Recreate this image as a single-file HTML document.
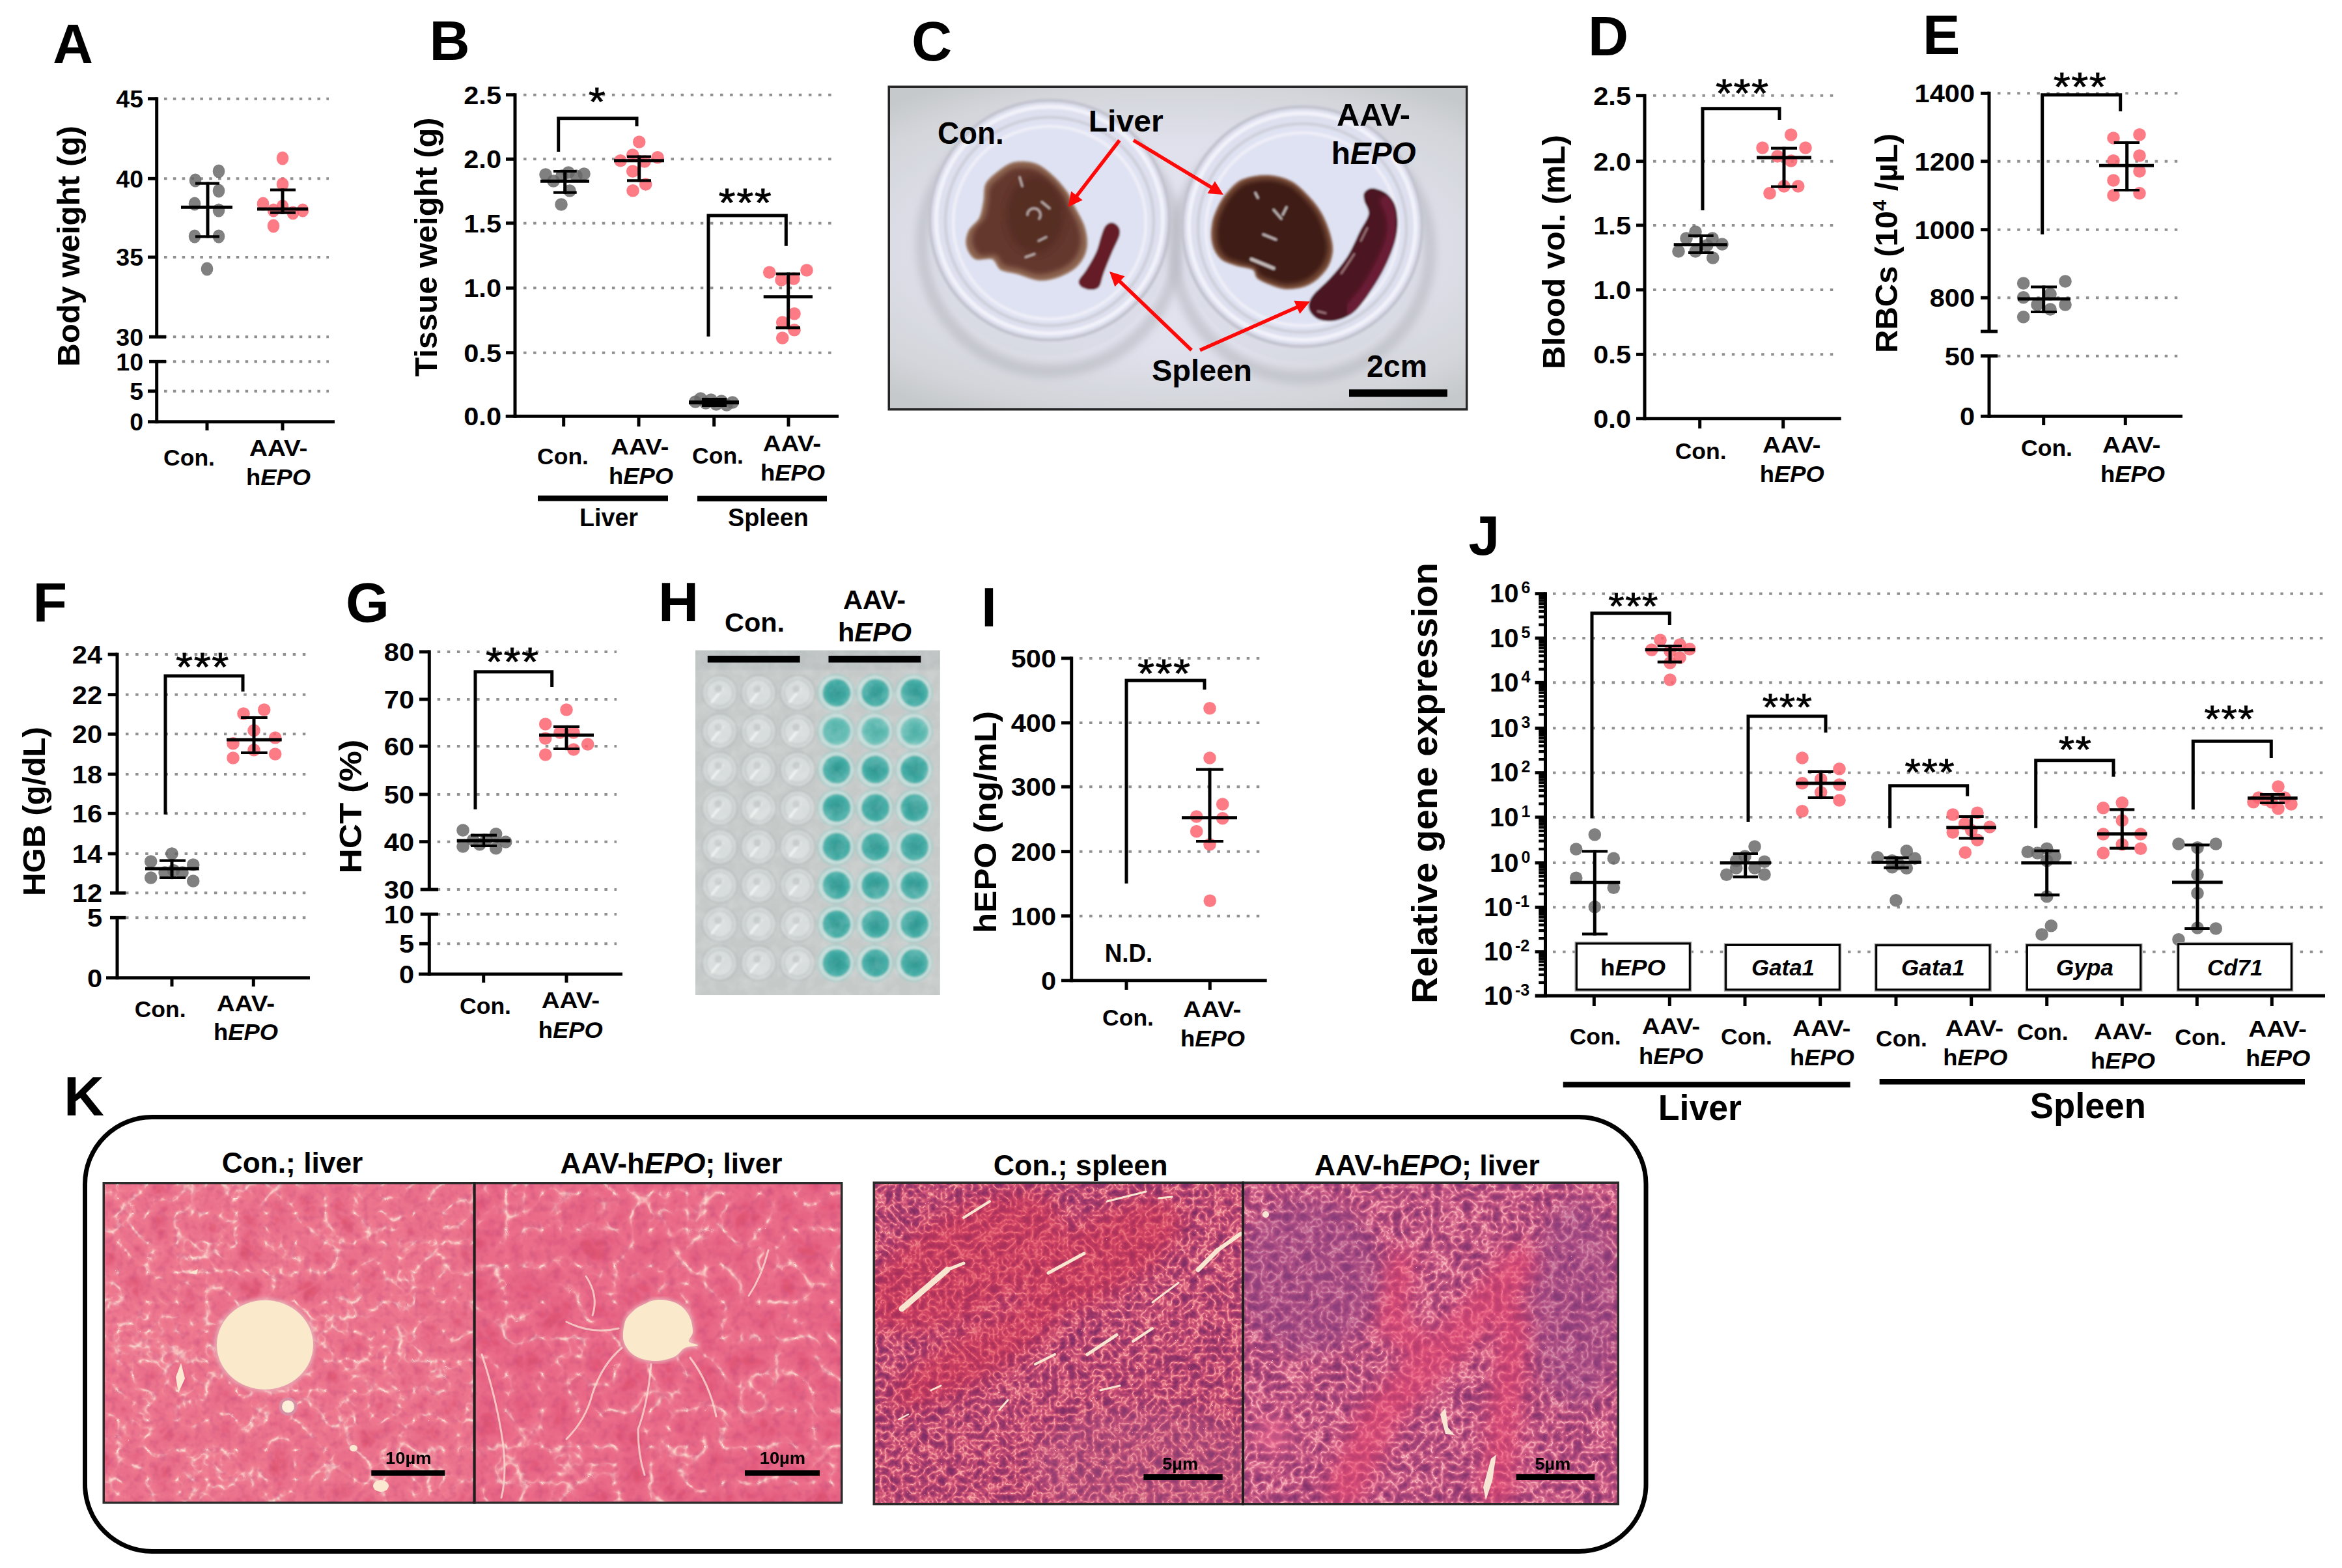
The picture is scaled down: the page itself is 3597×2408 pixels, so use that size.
<!DOCTYPE html>
<html><head><meta charset="utf-8"><title>Figure</title>
<style>html,body{margin:0;padding:0;background:#fff;}body{width:3597px;height:2408px;overflow:hidden;font-family:"Liberation Sans",sans-serif;}svg{display:block;}</style>
</head><body>
<svg width="3597" height="2408" viewBox="0 0 3597 2408" font-family='"Liberation Sans", sans-serif'>
<defs>
<filter id="soft" x="-5%" y="-5%" width="110%" height="110%"><feGaussianBlur stdDeviation="1.6"/></filter>
<filter id="soft3" x="-5%" y="-5%" width="110%" height="110%"><feGaussianBlur stdDeviation="3"/></filter>
<filter id="soft6" x="-10%" y="-10%" width="120%" height="120%"><feGaussianBlur stdDeviation="6"/></filter>
<filter id="soft12" x="-20%" y="-20%" width="140%" height="140%"><feGaussianBlur stdDeviation="14"/></filter>
<radialGradient id="bgC" cx="0.5" cy="0.5" r="0.75" gradientTransform="translate(0 0.1) scale(1 0.8)">
 <stop offset="0" stop-color="#e5e6f3"/><stop offset="0.55" stop-color="#dfe0eb"/><stop offset="0.85" stop-color="#d3d5da"/><stop offset="1" stop-color="#c6c9cb"/>
</radialGradient>
<radialGradient id="teal" cx="0.5" cy="0.5" r="0.5"><stop offset="0" stop-color="#2f958f"/><stop offset="0.7" stop-color="#3da8a1"/><stop offset="1" stop-color="#52b5ad"/></radialGradient>
<radialGradient id="teal2" cx="0.5" cy="0.5" r="0.5"><stop offset="0" stop-color="#4fb0a8"/><stop offset="0.7" stop-color="#5cb9b0"/><stop offset="1" stop-color="#7cc6bf"/></radialGradient>
<clipPath id="clipC"><rect x="1367" y="135" width="884" height="492"/></clipPath>
<clipPath id="clipH"><rect x="1067.9" y="998.6" width="376" height="529.6"/></clipPath>
<filter id="liv" x="0" y="0" width="100%" height="100%" color-interpolation-filters="sRGB">
  <feTurbulence type="turbulence" baseFrequency="0.022 0.022" numOctaves="3" seed="7" result="n"/>
  <feColorMatrix in="n" type="matrix" values="1 0 0 0 0  1 0 0 0 0  1 0 0 0 0  0 0 0 0 1" result="v"/>
  <feComponentTransfer in="v" result="veins">
    <feFuncR type="table" tableValues="0.99 0.97 0.95 0.94 0.935 0.93 0.925 0.92 0.915 0.91 0.90 0.89 0.88 0.87 0.86 0.86 0.86"/>
    <feFuncG type="table" tableValues="0.90 0.74 0.56 0.49 0.47 0.46 0.45 0.44 0.43 0.41 0.39 0.37 0.35 0.34 0.33 0.33 0.33"/>
    <feFuncB type="table" tableValues="0.84 0.74 0.62 0.575 0.56 0.555 0.55 0.545 0.54 0.52 0.50 0.48 0.46 0.45 0.44 0.44 0.44"/>
  </feComponentTransfer>
  <feTurbulence type="fractalNoise" baseFrequency="0.09" numOctaves="2" seed="3" result="g"/>
  <feColorMatrix in="g" type="matrix" values="0 0 0 0 0.80  0 0 0 0 0.32  0 0 0 0 0.50  1.3 0 0 0 -0.6" result="dots"/>
  <feMerge><feMergeNode in="veins"/><feMergeNode in="dots"/></feMerge>
</filter>
<filter id="liv2" x="0" y="0" width="100%" height="100%" color-interpolation-filters="sRGB">
  <feTurbulence type="turbulence" baseFrequency="0.018 0.018" numOctaves="3" seed="23" result="n"/>
  <feColorMatrix in="n" type="matrix" values="1 0 0 0 0  1 0 0 0 0  1 0 0 0 0  0 0 0 0 1" result="v"/>
  <feComponentTransfer in="v" result="veins">
    <feFuncR type="table" tableValues="0.99 0.97 0.945 0.93 0.925 0.92 0.915 0.91 0.905 0.90 0.89 0.88 0.87 0.86 0.85 0.85 0.85"/>
    <feFuncG type="table" tableValues="0.89 0.71 0.52 0.45 0.43 0.42 0.41 0.40 0.39 0.37 0.35 0.34 0.33 0.32 0.31 0.31 0.31"/>
    <feFuncB type="table" tableValues="0.83 0.72 0.60 0.555 0.54 0.535 0.53 0.525 0.52 0.50 0.48 0.46 0.45 0.44 0.43 0.43 0.43"/>
  </feComponentTransfer>
  <feTurbulence type="fractalNoise" baseFrequency="0.08" numOctaves="2" seed="9" result="g"/>
  <feColorMatrix in="g" type="matrix" values="0 0 0 0 0.78  0 0 0 0 0.30  0 0 0 0 0.48  1.3 0 0 0 -0.6" result="dots"/>
  <feMerge><feMergeNode in="veins"/><feMergeNode in="dots"/></feMerge>
</filter>
<filter id="spl" x="0" y="0" width="100%" height="100%" color-interpolation-filters="sRGB">
  <feTurbulence type="turbulence" baseFrequency="0.075 0.075" numOctaves="2" seed="5" result="n"/>
  <feColorMatrix in="n" type="matrix" values="1 0 0 0 0  1 0 0 0 0  1 0 0 0 0  0 0 0 0 1"/>
  <feComponentTransfer>
    <feFuncR type="table" tableValues="0.98 0.93 0.87 0.81 0.75 0.70 0.65 0.61 0.58 0.55 0.53 0.51 0.50 0.5 0.5 0.5 0.5"/>
    <feFuncG type="table" tableValues="0.74 0.54 0.41 0.33 0.29 0.26 0.24 0.22 0.21 0.20 0.19 0.18 0.18 0.18 0.18 0.18 0.18"/>
    <feFuncB type="table" tableValues="0.70 0.58 0.51 0.47 0.45 0.44 0.43 0.42 0.41 0.40 0.40 0.40 0.40 0.4 0.4 0.4 0.4"/>
  </feComponentTransfer>
</filter>
<filter id="spl2" x="0" y="0" width="100%" height="100%" color-interpolation-filters="sRGB">
  <feTurbulence type="turbulence" baseFrequency="0.065 0.065" numOctaves="2" seed="11" result="n"/>
  <feColorMatrix in="n" type="matrix" values="1 0 0 0 0  1 0 0 0 0  1 0 0 0 0  0 0 0 0 1"/>
  <feComponentTransfer>
    <feFuncR type="table" tableValues="0.98 0.93 0.87 0.81 0.76 0.71 0.67 0.63 0.60 0.57 0.55 0.53 0.52 0.52 0.52 0.52 0.52"/>
    <feFuncG type="table" tableValues="0.76 0.58 0.46 0.38 0.33 0.30 0.28 0.26 0.24 0.23 0.22 0.21 0.20 0.2 0.2 0.2 0.2"/>
    <feFuncB type="table" tableValues="0.78 0.66 0.58 0.54 0.51 0.49 0.48 0.47 0.46 0.45 0.44 0.43 0.42 0.42 0.42 0.42 0.42"/>
  </feComponentTransfer>
</filter>
<filter id="hnoise" x="0" y="0" width="100%" height="100%" color-interpolation-filters="sRGB">
  <feTurbulence type="fractalNoise" baseFrequency="0.05" numOctaves="3" seed="2"/>
  <feColorMatrix type="matrix" values="0 0 0 0 1  0 0 0 0 1  0 0 0 0 1  0.9 0 0 0 -0.3"/>
</filter>
</defs>
<rect x="0.0" y="0.0" width="3597.0" height="2408.0" fill="#fff" />
<text x="81.0" y="97.0" font-size="86" font-weight="bold" font-style="normal" text-anchor="start" fill="#000" >A</text>
<line x1="252.0" y1="151.7" x2="505.0" y2="151.7" stroke="#909090" stroke-width="4" stroke-dasharray="4.5 9.35"/>
<line x1="252.0" y1="274.3" x2="505.0" y2="274.3" stroke="#909090" stroke-width="4" stroke-dasharray="4.5 9.35"/>
<line x1="252.0" y1="395.0" x2="505.0" y2="395.0" stroke="#909090" stroke-width="4" stroke-dasharray="4.5 9.35"/>
<line x1="252.0" y1="517.3" x2="505.0" y2="517.3" stroke="#909090" stroke-width="4" stroke-dasharray="4.5 9.35"/>
<line x1="252.0" y1="555.3" x2="505.0" y2="555.3" stroke="#909090" stroke-width="4" stroke-dasharray="4.5 9.35"/>
<line x1="252.0" y1="600.7" x2="505.0" y2="600.7" stroke="#909090" stroke-width="4" stroke-dasharray="4.5 9.35"/>
<line x1="240.7" y1="149.2" x2="240.7" y2="517.3" stroke="#000" stroke-width="5" stroke-linecap="butt" />
<line x1="240.7" y1="555.3" x2="240.7" y2="650.2" stroke="#000" stroke-width="5" stroke-linecap="butt" />
<line x1="227.0" y1="151.7" x2="240.7" y2="151.7" stroke="#000" stroke-width="5" stroke-linecap="butt" />
<line x1="227.0" y1="274.3" x2="240.7" y2="274.3" stroke="#000" stroke-width="5" stroke-linecap="butt" />
<line x1="227.0" y1="395.0" x2="240.7" y2="395.0" stroke="#000" stroke-width="5" stroke-linecap="butt" />
<line x1="227.0" y1="600.7" x2="240.7" y2="600.7" stroke="#000" stroke-width="5" stroke-linecap="butt" />
<line x1="229.0" y1="517.3" x2="255.0" y2="517.3" stroke="#000" stroke-width="5" stroke-linecap="butt" />
<line x1="229.0" y1="555.3" x2="255.0" y2="555.3" stroke="#000" stroke-width="5" stroke-linecap="butt" />
<line x1="227.0" y1="647.7" x2="514.0" y2="647.7" stroke="#000" stroke-width="5" stroke-linecap="butt" />
<line x1="318.0" y1="647.7" x2="318.0" y2="661.0" stroke="#000" stroke-width="5" stroke-linecap="butt" />
<line x1="434.0" y1="647.7" x2="434.0" y2="661.0" stroke="#000" stroke-width="5" stroke-linecap="butt" />
<text transform="translate(220.0,165.1) scale(1.0,1)" font-size="37.5" font-weight="bold" text-anchor="end">45</text>
<text transform="translate(220.0,287.7) scale(1.0,1)" font-size="37.5" font-weight="bold" text-anchor="end">40</text>
<text transform="translate(220.0,408.4) scale(1.0,1)" font-size="37.5" font-weight="bold" text-anchor="end">35</text>
<text transform="translate(220.0,530.7) scale(1.0,1)" font-size="37.5" font-weight="bold" text-anchor="end">30</text>
<text transform="translate(220.0,568.7) scale(1.0,1)" font-size="37.5" font-weight="bold" text-anchor="end">10</text>
<text transform="translate(220.0,614.1) scale(1.0,1)" font-size="37.5" font-weight="bold" text-anchor="end">5</text>
<text transform="translate(220.0,661.1) scale(1.0,1)" font-size="37.5" font-weight="bold" text-anchor="end">0</text>
<text transform="translate(122.0,378.0) rotate(-90)" font-size="48" font-weight="bold" text-anchor="middle" textLength="370.0" lengthAdjust="spacingAndGlyphs">Body weight (g)</text>
<g fill="#666666" fill-opacity="0.83">
<ellipse cx="336.0" cy="263.0" rx="9.3" ry="10.6"/>
<ellipse cx="300.0" cy="277.0" rx="9.3" ry="10.6"/>
<ellipse cx="336.0" cy="293.0" rx="9.3" ry="10.6"/>
<ellipse cx="299.0" cy="313.0" rx="9.3" ry="10.6"/>
<ellipse cx="336.0" cy="323.0" rx="9.3" ry="10.6"/>
<ellipse cx="299.0" cy="363.0" rx="9.3" ry="10.6"/>
<ellipse cx="336.0" cy="363.0" rx="9.3" ry="10.6"/>
<ellipse cx="318.0" cy="413.0" rx="9.3" ry="10.6"/>
</g>
<g fill="#fc6470" fill-opacity="0.85">
<ellipse cx="434.0" cy="243.0" rx="9.3" ry="10.6"/>
<ellipse cx="434.0" cy="283.0" rx="9.3" ry="10.6"/>
<ellipse cx="404.0" cy="313.0" rx="9.3" ry="10.6"/>
<ellipse cx="434.0" cy="317.0" rx="9.3" ry="10.6"/>
<ellipse cx="420.0" cy="323.0" rx="9.3" ry="10.6"/>
<ellipse cx="450.0" cy="327.0" rx="9.3" ry="10.6"/>
<ellipse cx="465.0" cy="323.0" rx="9.3" ry="10.6"/>
<ellipse cx="420.0" cy="347.0" rx="9.3" ry="10.6"/>
</g>
<line x1="278.0" y1="318.3" x2="357.0" y2="318.3" stroke="#000" stroke-width="5" stroke-linecap="butt" />
<line x1="319.0" y1="279.6" x2="319.0" y2="365.4" stroke="#000" stroke-width="5" stroke-linecap="butt" />
<line x1="300.0" y1="281.7" x2="337.0" y2="281.7" stroke="#000" stroke-width="4.2" stroke-linecap="butt" />
<line x1="300.0" y1="363.3" x2="337.0" y2="363.3" stroke="#000" stroke-width="4.2" stroke-linecap="butt" />
<line x1="395.0" y1="321.0" x2="473.0" y2="321.0" stroke="#000" stroke-width="5" stroke-linecap="butt" />
<line x1="434.0" y1="289.6" x2="434.0" y2="328.8" stroke="#000" stroke-width="5" stroke-linecap="butt" />
<line x1="415.0" y1="291.7" x2="454.0" y2="291.7" stroke="#000" stroke-width="4.2" stroke-linecap="butt" />
<line x1="415.0" y1="326.7" x2="454.0" y2="326.7" stroke="#000" stroke-width="4.2" stroke-linecap="butt" />
<text x="251.0" y="715.0" font-size="35" font-weight="bold" font-style="normal" text-anchor="start" textLength="79.0" lengthAdjust="spacingAndGlyphs" fill="#000" >Con.</text>
<text x="383.0" y="700.0" font-size="35" font-weight="bold" font-style="normal" text-anchor="start" textLength="89.5" lengthAdjust="spacingAndGlyphs" fill="#000" >AAV-</text>
<text x="378.0" y="745.0" font-size="35" font-weight="bold" text-anchor="start" textLength="99.0" lengthAdjust="spacingAndGlyphs">h<tspan font-style="italic">EPO</tspan></text>
<text x="659.5" y="92.0" font-size="86" font-weight="bold" font-style="normal" text-anchor="start" fill="#000" >B</text>
<line x1="804.0" y1="145.7" x2="1279.0" y2="145.7" stroke="#909090" stroke-width="4" stroke-dasharray="4.5 10.60"/>
<line x1="804.0" y1="244.3" x2="1279.0" y2="244.3" stroke="#909090" stroke-width="4" stroke-dasharray="4.5 10.60"/>
<line x1="804.0" y1="342.7" x2="1279.0" y2="342.7" stroke="#909090" stroke-width="4" stroke-dasharray="4.5 10.60"/>
<line x1="804.0" y1="442.3" x2="1279.0" y2="442.3" stroke="#909090" stroke-width="4" stroke-dasharray="4.5 10.60"/>
<line x1="804.0" y1="541.7" x2="1279.0" y2="541.7" stroke="#909090" stroke-width="4" stroke-dasharray="4.5 10.60"/>
<line x1="791.0" y1="143.2" x2="791.0" y2="641.8" stroke="#000" stroke-width="5" stroke-linecap="butt" />
<line x1="777.0" y1="145.7" x2="791.0" y2="145.7" stroke="#000" stroke-width="5" stroke-linecap="butt" />
<line x1="777.0" y1="244.3" x2="791.0" y2="244.3" stroke="#000" stroke-width="5" stroke-linecap="butt" />
<line x1="777.0" y1="342.7" x2="791.0" y2="342.7" stroke="#000" stroke-width="5" stroke-linecap="butt" />
<line x1="777.0" y1="442.3" x2="791.0" y2="442.3" stroke="#000" stroke-width="5" stroke-linecap="butt" />
<line x1="777.0" y1="541.7" x2="791.0" y2="541.7" stroke="#000" stroke-width="5" stroke-linecap="butt" />
<line x1="776.7" y1="639.3" x2="1288.0" y2="639.3" stroke="#000" stroke-width="5" stroke-linecap="butt" />
<line x1="865.7" y1="639.3" x2="865.7" y2="655.0" stroke="#000" stroke-width="5" stroke-linecap="butt" />
<line x1="981.0" y1="639.3" x2="981.0" y2="655.0" stroke="#000" stroke-width="5" stroke-linecap="butt" />
<line x1="1096.7" y1="639.3" x2="1096.7" y2="655.0" stroke="#000" stroke-width="5" stroke-linecap="butt" />
<line x1="1211.0" y1="639.3" x2="1211.0" y2="655.0" stroke="#000" stroke-width="5" stroke-linecap="butt" />
<text transform="translate(770.0,159.5) scale(1.08,1)" font-size="38.5" font-weight="bold" text-anchor="end">2.5</text>
<text transform="translate(770.0,258.1) scale(1.08,1)" font-size="38.5" font-weight="bold" text-anchor="end">2.0</text>
<text transform="translate(770.0,356.5) scale(1.08,1)" font-size="38.5" font-weight="bold" text-anchor="end">1.5</text>
<text transform="translate(770.0,456.1) scale(1.08,1)" font-size="38.5" font-weight="bold" text-anchor="end">1.0</text>
<text transform="translate(770.0,555.5) scale(1.08,1)" font-size="38.5" font-weight="bold" text-anchor="end">0.5</text>
<text transform="translate(770.0,653.1) scale(1.08,1)" font-size="38.5" font-weight="bold" text-anchor="end">0.0</text>
<text transform="translate(670.5,379.5) rotate(-90)" font-size="48" font-weight="bold" text-anchor="middle" textLength="398.0" lengthAdjust="spacingAndGlyphs">Tissue weight (g)</text>
<text transform="translate(916.7,176.8) scale(1.08,1)" x="-12.1" y="0" font-size="62" font-weight="normal" letter-spacing="1.4" stroke="#000" stroke-width="0.8">*</text>
<path d="M857.7,233.0 L857.7,181.7 L978.0,181.7 L978.0,194.0" fill="none" stroke="#000" stroke-width="5" stroke-linejoin="miter"/>
<g fill="#666666" fill-opacity="0.83">
<circle cx="838.0" cy="268.0" r="9.8"/>
<circle cx="850.0" cy="278.0" r="9.8"/>
<circle cx="863.0" cy="270.0" r="9.8"/>
<circle cx="873.0" cy="265.0" r="9.8"/>
<circle cx="885.0" cy="270.0" r="9.8"/>
<circle cx="897.0" cy="267.0" r="9.8"/>
<circle cx="875.0" cy="293.0" r="9.8"/>
<circle cx="862.0" cy="314.0" r="9.8"/>
</g>
<line x1="830.0" y1="278.3" x2="905.0" y2="278.3" stroke="#000" stroke-width="5" stroke-linecap="butt" />
<line x1="867.7" y1="260.9" x2="867.7" y2="297.8" stroke="#000" stroke-width="5" stroke-linecap="butt" />
<line x1="850.0" y1="263.0" x2="885.7" y2="263.0" stroke="#000" stroke-width="4.2" stroke-linecap="butt" />
<line x1="850.0" y1="295.7" x2="885.7" y2="295.7" stroke="#000" stroke-width="4.2" stroke-linecap="butt" />
<g fill="#fc6470" fill-opacity="0.85">
<circle cx="981.7" cy="218.0" r="9.8"/>
<circle cx="971.7" cy="238.0" r="9.8"/>
<circle cx="953.0" cy="246.7" r="9.8"/>
<circle cx="1010.0" cy="241.7" r="9.8"/>
<circle cx="990.0" cy="248.0" r="9.8"/>
<circle cx="971.7" cy="263.0" r="9.8"/>
<circle cx="991.7" cy="283.0" r="9.8"/>
<circle cx="972.0" cy="292.7" r="9.8"/>
</g>
<line x1="943.0" y1="246.7" x2="1020.0" y2="246.7" stroke="#000" stroke-width="5" stroke-linecap="butt" />
<line x1="981.7" y1="238.6" x2="981.7" y2="279.4" stroke="#000" stroke-width="5" stroke-linecap="butt" />
<line x1="963.0" y1="240.7" x2="1000.0" y2="240.7" stroke="#000" stroke-width="4.2" stroke-linecap="butt" />
<line x1="963.0" y1="277.3" x2="1000.0" y2="277.3" stroke="#000" stroke-width="4.2" stroke-linecap="butt" />
<text transform="translate(1144.2,332.2) scale(1.08,1)" x="-37.6" y="0" font-size="62" font-weight="normal" letter-spacing="1.4" stroke="#000" stroke-width="0.8">***</text>
<path d="M1088.0,516.7 L1088.0,331.0 L1207.3,331.0 L1207.3,377.7" fill="none" stroke="#000" stroke-width="5" stroke-linejoin="miter"/>
<g fill="#fc6470" fill-opacity="0.85">
<circle cx="1181.7" cy="418.3" r="9.8"/>
<circle cx="1239.0" cy="415.0" r="9.8"/>
<circle cx="1200.0" cy="430.0" r="9.8"/>
<circle cx="1219.0" cy="428.0" r="9.8"/>
<circle cx="1220.0" cy="481.7" r="9.8"/>
<circle cx="1201.7" cy="495.0" r="9.8"/>
<circle cx="1220.0" cy="506.7" r="9.8"/>
<circle cx="1201.7" cy="519.0" r="9.8"/>
</g>
<line x1="1172.7" y1="455.7" x2="1248.0" y2="455.7" stroke="#000" stroke-width="5" stroke-linecap="butt" />
<line x1="1210.7" y1="418.6" x2="1210.7" y2="505.4" stroke="#000" stroke-width="5" stroke-linecap="butt" />
<line x1="1191.7" y1="420.7" x2="1229.0" y2="420.7" stroke="#000" stroke-width="4.2" stroke-linecap="butt" />
<line x1="1191.7" y1="503.3" x2="1229.0" y2="503.3" stroke="#000" stroke-width="4.2" stroke-linecap="butt" />
<g fill="#666666" fill-opacity="0.83">
<circle cx="1068.0" cy="617.0" r="9.8"/>
<circle cx="1076.0" cy="612.0" r="9.8"/>
<circle cx="1084.0" cy="619.0" r="9.8"/>
<circle cx="1092.0" cy="614.0" r="9.8"/>
<circle cx="1100.0" cy="621.0" r="9.8"/>
<circle cx="1108.0" cy="616.0" r="9.8"/>
<circle cx="1116.0" cy="622.0" r="9.8"/>
<circle cx="1125.0" cy="618.0" r="9.8"/>
</g>
<line x1="1058.0" y1="618.0" x2="1135.0" y2="618.0" stroke="#000" stroke-width="6" stroke-linecap="butt" />
<line x1="1096.7" y1="610.9" x2="1096.7" y2="625.1" stroke="#000" stroke-width="5" stroke-linecap="butt" />
<line x1="1078.0" y1="613.0" x2="1116.0" y2="613.0" stroke="#000" stroke-width="4.2" stroke-linecap="butt" />
<line x1="1078.0" y1="623.0" x2="1116.0" y2="623.0" stroke="#000" stroke-width="4.2" stroke-linecap="butt" />
<text x="825.0" y="713.0" font-size="35" font-weight="bold" font-style="normal" text-anchor="start" textLength="79.0" lengthAdjust="spacingAndGlyphs" fill="#000" >Con.</text>
<text x="938.0" y="698.0" font-size="35" font-weight="bold" font-style="normal" text-anchor="start" textLength="89.5" lengthAdjust="spacingAndGlyphs" fill="#000" >AAV-</text>
<text x="935.0" y="743.0" font-size="35" font-weight="bold" text-anchor="start" textLength="99.0" lengthAdjust="spacingAndGlyphs">h<tspan font-style="italic">EPO</tspan></text>
<text x="1063.0" y="712.0" font-size="35" font-weight="bold" font-style="normal" text-anchor="start" textLength="79.0" lengthAdjust="spacingAndGlyphs" fill="#000" >Con.</text>
<text x="1171.7" y="693.0" font-size="35" font-weight="bold" font-style="normal" text-anchor="start" textLength="89.5" lengthAdjust="spacingAndGlyphs" fill="#000" >AAV-</text>
<text x="1168.0" y="738.0" font-size="35" font-weight="bold" text-anchor="start" textLength="99.0" lengthAdjust="spacingAndGlyphs">h<tspan font-style="italic">EPO</tspan></text>
<rect x="826.0" y="761.0" width="200.0" height="8.5" fill="#000" />
<rect x="1071.0" y="761.5" width="199.0" height="8.5" fill="#000" />
<text x="890.0" y="808.0" font-size="38" font-weight="bold" font-style="normal" text-anchor="start" textLength="90.0" lengthAdjust="spacingAndGlyphs" fill="#000" >Liver</text>
<text x="1118.0" y="808.0" font-size="38" font-weight="bold" font-style="normal" text-anchor="start" textLength="123.7" lengthAdjust="spacingAndGlyphs" fill="#000" >Spleen</text>
<text x="1400.0" y="93.0" font-size="86" font-weight="bold" font-style="normal" text-anchor="start" fill="#000" >C</text>
<rect x="1363.5" y="131.5" width="891.0" height="499.0" fill="#262626" />
<g clip-path="url(#clipC)">
<rect x="1366.0" y="134.0" width="886.0" height="494.0" fill="url(#bgC)" />
<g filter="url(#soft)">
<circle cx="1612" cy="374" r="196" fill="none" stroke="#b4b5bd" stroke-width="20" opacity="0.55" filter="url(#soft6)"/>
<circle cx="1612" cy="360" r="186" fill="#d6d7e2" opacity="0.5"/>
<circle cx="1612" cy="338" r="184" fill="#dee0ef" stroke="#c3c4cf" stroke-width="5"/>
<circle cx="1612" cy="338" r="174" fill="none" stroke="#f2f2fa" stroke-width="6"/>
<circle cx="1612" cy="340" r="160" fill="#dfe2f2" stroke="#cfd0db" stroke-width="5"/>
<circle cx="1612" cy="342" r="148" fill="none" stroke="#eeeef8" stroke-width="5"/>
<circle cx="2000" cy="384" r="196" fill="none" stroke="#b4b5bd" stroke-width="20" opacity="0.55" filter="url(#soft6)"/>
<circle cx="2000" cy="370" r="186" fill="#d6d7e2" opacity="0.5"/>
<circle cx="2000" cy="348" r="184" fill="#dee0ef" stroke="#c3c4cf" stroke-width="5"/>
<circle cx="2000" cy="348" r="174" fill="none" stroke="#f2f2fa" stroke-width="6"/>
<circle cx="2000" cy="350" r="160" fill="#dfe2f2" stroke="#cfd0db" stroke-width="5"/>
<circle cx="2000" cy="352" r="148" fill="none" stroke="#eeeef8" stroke-width="5"/>
<path d="M1557.0,249.8 C1566.3,247.8 1580.0,248.1 1589.8,251.4 C1599.7,254.7 1607.9,262.1 1616.1,269.5 C1624.3,276.8 1633.6,288.1 1639.1,295.7 C1644.5,303.4 1644.5,306.7 1648.9,315.4 C1653.3,324.2 1662.0,337.3 1665.3,348.2 C1668.6,359.2 1670.2,371.2 1668.6,381.1 C1667.0,390.9 1662.0,400.2 1655.5,407.3 C1648.9,414.5 1639.1,419.9 1629.2,423.8 C1619.4,427.6 1607.3,430.9 1596.4,430.3 C1585.4,429.8 1573.4,423.2 1563.5,420.5 C1553.7,417.7 1543.8,417.7 1537.3,413.9 C1530.7,410.1 1530.7,400.2 1524.1,397.5 C1517.6,394.8 1504.5,400.8 1497.9,397.5 C1491.3,394.2 1486.4,384.9 1484.8,377.8 C1483.1,370.7 1484.8,361.9 1488.0,354.8 C1491.3,347.7 1500.6,342.8 1504.5,335.1 C1508.3,327.5 1509.4,317.6 1511.0,308.8 C1512.7,300.1 1510.5,290.2 1514.3,282.6 C1518.1,274.9 1526.9,268.4 1534.0,262.9 C1541.1,257.4 1547.7,251.7 1557.0,249.8 Z" fill="#8c6450" stroke="#a98a78" stroke-width="3"/>
<path d="M1558.9,258.6 C1567.3,256.9 1579.6,257.1 1588.5,260.1 C1597.4,263.0 1604.7,269.7 1612.1,276.3 C1619.5,283.0 1627.9,293.1 1632.8,300.0 C1637.7,306.9 1637.7,309.8 1641.7,317.7 C1645.6,325.6 1653.5,337.4 1656.5,347.3 C1659.4,357.1 1660.9,367.9 1659.4,376.8 C1657.9,385.7 1653.5,394.0 1647.6,400.4 C1641.7,406.8 1632.8,411.8 1624.0,415.2 C1615.1,418.7 1604.3,421.6 1594.4,421.1 C1584.6,420.6 1573.7,414.7 1564.9,412.3 C1556.0,409.8 1547.1,409.8 1541.2,406.4 C1535.3,402.9 1535.3,394.0 1529.4,391.6 C1523.5,389.1 1511.7,394.5 1505.8,391.6 C1499.9,388.6 1495.4,380.3 1493.9,373.9 C1492.5,367.4 1493.9,359.6 1496.9,353.2 C1499.9,346.8 1508.2,342.3 1511.7,335.4 C1515.1,328.5 1516.1,319.7 1517.6,311.8 C1519.1,303.9 1517.1,295.1 1520.5,288.2 C1524.0,281.3 1531.9,275.4 1538.3,270.4 C1544.7,265.5 1550.6,260.3 1558.9,258.6 Z" fill="#65392e" filter="url(#soft3)"/>
<ellipse cx="1590" cy="330" rx="45" ry="60" fill="#4e271f" opacity="0.6" filter="url(#soft6)"/>
<g stroke="#d8cfcf" stroke-width="3" fill="none" opacity="0.8" stroke-linecap="round"><path d="M1595,370 l12,-6"/><path d="M1575,395 l14,-5"/><path d="M1578,330 a10,10 0 1 1 18,6"/><path d="M1566,272 l4,14"/><path d="M1600,310 l12,10"/></g>
<path d="M1708.0,341.7 C1711.3,342.0 1715.9,345.0 1717.8,348.2 C1719.8,351.5 1721.1,354.8 1719.5,361.4 C1717.8,367.9 1712.1,377.8 1708.0,387.6 C1703.9,397.5 1698.1,411.7 1694.9,420.5 C1691.6,429.2 1691.6,436.1 1688.3,440.2 C1685.0,444.3 1679.8,445.1 1675.2,445.1 C1670.5,445.1 1663.4,442.6 1660.4,440.2 C1657.4,437.7 1655.7,434.7 1657.1,430.3 C1658.5,425.9 1664.2,421.0 1668.6,413.9 C1673.0,406.8 1679.5,396.4 1683.4,387.6 C1687.2,378.9 1689.1,368.2 1691.6,361.4 C1694.0,354.5 1695.4,349.9 1698.1,346.6 C1700.9,343.3 1704.7,341.4 1708.0,341.7 Z" fill="#661a26"/>
<path d="M1908.3,276.0 C1918.7,271.6 1935.1,268.9 1947.7,269.5 C1960.3,270.0 1973.5,273.8 1983.8,279.3 C1994.2,284.8 2002.5,294.1 2010.1,302.3 C2017.8,310.5 2024.3,318.7 2029.8,328.5 C2035.3,338.4 2040.2,351.5 2042.9,361.4 C2045.7,371.2 2047.3,378.9 2046.2,387.6 C2045.1,396.4 2042.4,405.7 2036.4,413.9 C2030.4,422.1 2020.0,432.0 2010.1,436.9 C2000.3,441.8 1987.1,443.5 1977.3,443.5 C1967.4,443.5 1958.7,439.6 1951.0,436.9 C1943.4,434.1 1935.7,430.9 1931.3,427.0 C1926.9,423.2 1930.2,417.2 1924.8,413.9 C1919.3,410.6 1906.7,410.1 1898.5,407.3 C1890.3,404.6 1881.5,403.0 1875.5,397.5 C1869.5,392.0 1864.6,383.8 1862.4,374.5 C1860.2,365.2 1860.7,351.5 1862.4,341.7 C1864.0,331.8 1868.4,323.1 1872.2,315.4 C1876.1,307.8 1879.3,302.3 1885.4,295.7 C1891.4,289.1 1897.9,280.4 1908.3,276.0 Z" fill="#754a36" stroke="#9a7460" stroke-width="3"/>
<path d="M1912.0,282.3 C1921.6,278.3 1936.7,275.8 1948.3,276.3 C1959.8,276.8 1971.9,280.3 1981.5,285.3 C1991.0,290.4 1998.6,298.9 2005.6,306.5 C2012.7,314.0 2018.7,321.6 2023.8,330.6 C2028.8,339.7 2033.3,351.8 2035.9,360.9 C2038.4,369.9 2039.9,377.0 2038.9,385.0 C2037.9,393.1 2035.3,401.6 2029.8,409.2 C2024.3,416.7 2014.7,425.8 2005.6,430.3 C1996.6,434.8 1984.5,436.4 1975.4,436.4 C1966.4,436.4 1958.3,432.8 1951.3,430.3 C1944.2,427.8 1937.2,424.8 1933.2,421.3 C1929.1,417.7 1932.2,412.2 1927.1,409.2 C1922.1,406.2 1910.5,405.7 1903.0,403.1 C1895.4,400.6 1887.3,399.1 1881.8,394.1 C1876.3,389.0 1871.7,381.5 1869.7,372.9 C1867.7,364.4 1868.2,351.8 1869.7,342.7 C1871.2,333.7 1875.3,325.6 1878.8,318.6 C1882.3,311.5 1885.3,306.5 1890.9,300.4 C1896.4,294.4 1902.5,286.3 1912.0,282.3 Z" fill="#3f1c17" filter="url(#soft3)"/>
<g stroke="#e0dada" stroke-width="3" fill="none" opacity="0.85" stroke-linecap="round"><path d="M1922,398 l34,14" stroke-width="5"/><path d="M1940,360 l20,8"/><path d="M1956,322 l12,14"/><path d="M1928,296 l4,8"/><path d="M1970,330 l6,-12"/></g>
<clipPath id="spR"><path d="M2108.6,289.1 C2114.6,289.7 2125.6,293.5 2131.6,299.0 C2137.6,304.5 2142.5,311.6 2144.7,322.0 C2146.9,332.4 2147.5,347.1 2144.7,361.4 C2142.0,375.6 2134.9,393.1 2128.3,407.3 C2121.7,421.6 2113.5,434.7 2105.3,446.7 C2097.1,458.8 2088.4,471.9 2079.1,479.6 C2069.8,487.2 2058.8,491.1 2049.5,492.7 C2040.2,494.3 2029.8,492.7 2023.2,489.4 C2016.7,486.1 2011.2,479.0 2010.1,473.0 C2009.0,467.0 2011.2,461.0 2016.7,453.3 C2022.1,445.6 2034.2,436.9 2042.9,427.0 C2051.7,417.2 2061.5,406.2 2069.2,394.2 C2076.9,382.2 2083.4,365.8 2088.9,354.8 C2094.4,343.9 2100.9,336.2 2102.0,328.5 C2103.1,320.9 2096.6,314.3 2095.5,308.8 C2094.4,303.4 2093.3,299.0 2095.5,295.7 C2097.7,292.4 2102.6,288.6 2108.6,289.1 Z"/></clipPath>
<path d="M2108.6,289.1 C2114.6,289.7 2125.6,293.5 2131.6,299.0 C2137.6,304.5 2142.5,311.6 2144.7,322.0 C2146.9,332.4 2147.5,347.1 2144.7,361.4 C2142.0,375.6 2134.9,393.1 2128.3,407.3 C2121.7,421.6 2113.5,434.7 2105.3,446.7 C2097.1,458.8 2088.4,471.9 2079.1,479.6 C2069.8,487.2 2058.8,491.1 2049.5,492.7 C2040.2,494.3 2029.8,492.7 2023.2,489.4 C2016.7,486.1 2011.2,479.0 2010.1,473.0 C2009.0,467.0 2011.2,461.0 2016.7,453.3 C2022.1,445.6 2034.2,436.9 2042.9,427.0 C2051.7,417.2 2061.5,406.2 2069.2,394.2 C2076.9,382.2 2083.4,365.8 2088.9,354.8 C2094.4,343.9 2100.9,336.2 2102.0,328.5 C2103.1,320.9 2096.6,314.3 2095.5,308.8 C2094.4,303.4 2093.3,299.0 2095.5,295.7 C2097.7,292.4 2102.6,288.6 2108.6,289.1 Z" fill="#4b1321"/>
<path d="M2128.3,308.8 C2129.9,313.2 2136.8,325.3 2138.1,335.1 C2139.5,345.0 2139.5,355.9 2136.5,367.9 C2133.5,380.0 2126.7,394.2 2120.1,407.3 C2113.5,420.5 2105.0,435.2 2097.1,446.7 C2089.2,458.2 2076.6,471.4 2072.5,476.3 " fill="none" stroke="#74203c" stroke-width="18" stroke-linecap="round" opacity="0.8" filter="url(#soft3)" clip-path="url(#spR)"/>
<g stroke="#caa" stroke-width="2.5" fill="none" opacity="0.7" stroke-linecap="round"><path d="M2024,478 l12,3"/><path d="M2060,420 l20,-30"/><path d="M2090,370 l10,-20"/></g>
</g>
<line x1="1719.4" y1="215.5" x2="1652.7" y2="302.1" stroke="#ff0808" stroke-width="5.5" stroke-linecap="butt" />
<polygon points="1640.5,317.9 1645.2,293.8 1662.6,307.2" fill="#ff0808"/>
<line x1="1741.0" y1="215.5" x2="1861.9" y2="288.6" stroke="#ff0808" stroke-width="5.5" stroke-linecap="butt" />
<polygon points="1879.0,299.0 1854.5,297.0 1865.9,278.2" fill="#ff0808"/>
<line x1="1830.0" y1="537.7" x2="1718.4" y2="430.8" stroke="#ff0808" stroke-width="5.5" stroke-linecap="butt" />
<polygon points="1704.0,417.0 1727.5,424.3 1712.3,440.2" fill="#ff0808"/>
<line x1="1843.0" y1="537.7" x2="1993.7" y2="471.1" stroke="#ff0808" stroke-width="5.5" stroke-linecap="butt" />
<polygon points="2012.0,463.0 1996.3,482.0 1987.4,461.8" fill="#ff0808"/>
</g>
<text x="1440.0" y="221.0" font-size="48" font-weight="bold" font-style="normal" text-anchor="start" textLength="101.6" lengthAdjust="spacingAndGlyphs" fill="#000" >Con.</text>
<text x="1671.7" y="201.6" font-size="46" font-weight="bold" font-style="normal" text-anchor="start" textLength="115.0" lengthAdjust="spacingAndGlyphs" fill="#000" >Liver</text>
<text x="2053.0" y="193.0" font-size="48" font-weight="bold" font-style="normal" text-anchor="start" textLength="113.0" lengthAdjust="spacingAndGlyphs" fill="#000" >AAV-</text>
<text x="2044.7" y="251.5" font-size="48" font-weight="bold" text-anchor="start" textLength="130.0" lengthAdjust="spacingAndGlyphs">h<tspan font-style="italic">EPO</tspan></text>
<text x="1769.0" y="585.4" font-size="46" font-weight="bold" font-style="normal" text-anchor="start" textLength="154.0" lengthAdjust="spacingAndGlyphs" fill="#000" >Spleen</text>
<text x="2099.0" y="579.0" font-size="48" font-weight="bold" font-style="normal" text-anchor="start" textLength="93.0" lengthAdjust="spacingAndGlyphs" fill="#000" >2cm</text>
<rect x="2072.0" y="598.0" width="151.0" height="11.5" fill="#000" />
<text x="2439.0" y="85.0" font-size="86" font-weight="bold" font-style="normal" text-anchor="start" fill="#000" >D</text>
<line x1="2539.0" y1="146.7" x2="2817.0" y2="146.7" stroke="#909090" stroke-width="4" stroke-dasharray="4.5 10.60"/>
<line x1="2539.0" y1="247.7" x2="2817.0" y2="247.7" stroke="#909090" stroke-width="4" stroke-dasharray="4.5 10.60"/>
<line x1="2539.0" y1="346.0" x2="2817.0" y2="346.0" stroke="#909090" stroke-width="4" stroke-dasharray="4.5 10.60"/>
<line x1="2539.0" y1="445.0" x2="2817.0" y2="445.0" stroke="#909090" stroke-width="4" stroke-dasharray="4.5 10.60"/>
<line x1="2539.0" y1="544.3" x2="2817.0" y2="544.3" stroke="#909090" stroke-width="4" stroke-dasharray="4.5 10.60"/>
<line x1="2526.0" y1="144.2" x2="2526.0" y2="645.2" stroke="#000" stroke-width="5" stroke-linecap="butt" />
<line x1="2513.0" y1="146.7" x2="2526.0" y2="146.7" stroke="#000" stroke-width="5" stroke-linecap="butt" />
<line x1="2513.0" y1="247.7" x2="2526.0" y2="247.7" stroke="#000" stroke-width="5" stroke-linecap="butt" />
<line x1="2513.0" y1="346.0" x2="2526.0" y2="346.0" stroke="#000" stroke-width="5" stroke-linecap="butt" />
<line x1="2513.0" y1="445.0" x2="2526.0" y2="445.0" stroke="#000" stroke-width="5" stroke-linecap="butt" />
<line x1="2513.0" y1="544.3" x2="2526.0" y2="544.3" stroke="#000" stroke-width="5" stroke-linecap="butt" />
<line x1="2513.0" y1="642.7" x2="2827.7" y2="642.7" stroke="#000" stroke-width="5" stroke-linecap="butt" />
<line x1="2610.7" y1="642.7" x2="2610.7" y2="658.0" stroke="#000" stroke-width="5" stroke-linecap="butt" />
<line x1="2738.7" y1="642.7" x2="2738.7" y2="658.0" stroke="#000" stroke-width="5" stroke-linecap="butt" />
<text transform="translate(2505.0,160.5) scale(1.08,1)" font-size="38.5" font-weight="bold" text-anchor="end">2.5</text>
<text transform="translate(2505.0,261.5) scale(1.08,1)" font-size="38.5" font-weight="bold" text-anchor="end">2.0</text>
<text transform="translate(2505.0,359.8) scale(1.08,1)" font-size="38.5" font-weight="bold" text-anchor="end">1.5</text>
<text transform="translate(2505.0,458.8) scale(1.08,1)" font-size="38.5" font-weight="bold" text-anchor="end">1.0</text>
<text transform="translate(2505.0,558.1) scale(1.08,1)" font-size="38.5" font-weight="bold" text-anchor="end">0.5</text>
<text transform="translate(2505.0,656.5) scale(1.08,1)" font-size="38.5" font-weight="bold" text-anchor="end">0.0</text>
<text transform="translate(2402.5,387.0) rotate(-90)" font-size="48" font-weight="bold" text-anchor="middle" textLength="360.0" lengthAdjust="spacingAndGlyphs">Blood vol. (mL)</text>
<text transform="translate(2675.5,163.9) scale(1.08,1)" x="-37.6" y="0" font-size="62" font-weight="normal" letter-spacing="1.4" stroke="#000" stroke-width="0.8">***</text>
<path d="M2615.0,323.0 L2615.0,166.7 L2733.0,166.7 L2733.0,184.0" fill="none" stroke="#000" stroke-width="5" stroke-linejoin="miter"/>
<g fill="#fc6470" fill-opacity="0.85">
<circle cx="2750.7" cy="207.0" r="9.8"/>
<circle cx="2707.0" cy="227.0" r="9.8"/>
<circle cx="2773.0" cy="227.0" r="9.8"/>
<circle cx="2730.0" cy="240.0" r="9.8"/>
<circle cx="2750.7" cy="247.0" r="9.8"/>
<circle cx="2761.7" cy="286.0" r="9.8"/>
<circle cx="2740.0" cy="286.0" r="9.8"/>
<circle cx="2718.0" cy="296.7" r="9.8"/>
</g>
<line x1="2698.0" y1="242.0" x2="2782.0" y2="242.0" stroke="#000" stroke-width="5" stroke-linecap="butt" />
<line x1="2740.0" y1="225.6" x2="2740.0" y2="288.8" stroke="#000" stroke-width="5" stroke-linecap="butt" />
<line x1="2720.0" y1="227.7" x2="2760.0" y2="227.7" stroke="#000" stroke-width="4.2" stroke-linecap="butt" />
<line x1="2720.0" y1="286.7" x2="2760.0" y2="286.7" stroke="#000" stroke-width="4.2" stroke-linecap="butt" />
<g fill="#666666" fill-opacity="0.83">
<circle cx="2604.0" cy="356.0" r="9.8"/>
<circle cx="2590.0" cy="366.0" r="9.8"/>
<circle cx="2630.0" cy="366.0" r="9.8"/>
<circle cx="2645.0" cy="375.0" r="9.8"/>
<circle cx="2578.0" cy="386.0" r="9.8"/>
<circle cx="2604.0" cy="386.0" r="9.8"/>
<circle cx="2621.7" cy="376.7" r="9.8"/>
<circle cx="2630.7" cy="396.0" r="9.8"/>
</g>
<line x1="2570.7" y1="375.7" x2="2653.0" y2="375.7" stroke="#000" stroke-width="5" stroke-linecap="butt" />
<line x1="2612.7" y1="359.9" x2="2612.7" y2="390.1" stroke="#000" stroke-width="5" stroke-linecap="butt" />
<line x1="2593.0" y1="362.0" x2="2631.7" y2="362.0" stroke="#000" stroke-width="4.2" stroke-linecap="butt" />
<line x1="2593.0" y1="388.0" x2="2631.7" y2="388.0" stroke="#000" stroke-width="4.2" stroke-linecap="butt" />
<text x="2572.7" y="705.0" font-size="35" font-weight="bold" font-style="normal" text-anchor="start" textLength="79.0" lengthAdjust="spacingAndGlyphs" fill="#000" >Con.</text>
<text x="2707.0" y="695.0" font-size="35" font-weight="bold" font-style="normal" text-anchor="start" textLength="89.5" lengthAdjust="spacingAndGlyphs" fill="#000" >AAV-</text>
<text x="2702.7" y="740.0" font-size="35" font-weight="bold" text-anchor="start" textLength="99.0" lengthAdjust="spacingAndGlyphs">h<tspan font-style="italic">EPO</tspan></text>
<text x="2953.0" y="83.0" font-size="86" font-weight="bold" font-style="normal" text-anchor="start" fill="#000" >E</text>
<line x1="3068.0" y1="143.3" x2="3346.0" y2="143.3" stroke="#909090" stroke-width="4" stroke-dasharray="4.5 10.60"/>
<line x1="3068.0" y1="247.7" x2="3346.0" y2="247.7" stroke="#909090" stroke-width="4" stroke-dasharray="4.5 10.60"/>
<line x1="3068.0" y1="352.7" x2="3346.0" y2="352.7" stroke="#909090" stroke-width="4" stroke-dasharray="4.5 10.60"/>
<line x1="3068.0" y1="457.3" x2="3346.0" y2="457.3" stroke="#909090" stroke-width="4" stroke-dasharray="4.5 10.60"/>
<line x1="3068.0" y1="546.7" x2="3346.0" y2="546.7" stroke="#909090" stroke-width="4" stroke-dasharray="4.5 10.60"/>
<line x1="3055.0" y1="140.8" x2="3055.0" y2="509.0" stroke="#000" stroke-width="5" stroke-linecap="butt" />
<line x1="3055.0" y1="546.7" x2="3055.0" y2="641.8" stroke="#000" stroke-width="5" stroke-linecap="butt" />
<line x1="3042.0" y1="143.3" x2="3055.0" y2="143.3" stroke="#000" stroke-width="5" stroke-linecap="butt" />
<line x1="3042.0" y1="247.7" x2="3055.0" y2="247.7" stroke="#000" stroke-width="5" stroke-linecap="butt" />
<line x1="3042.0" y1="352.7" x2="3055.0" y2="352.7" stroke="#000" stroke-width="5" stroke-linecap="butt" />
<line x1="3042.0" y1="457.3" x2="3055.0" y2="457.3" stroke="#000" stroke-width="5" stroke-linecap="butt" />
<line x1="3042.0" y1="509.0" x2="3068.0" y2="509.0" stroke="#000" stroke-width="5" stroke-linecap="butt" />
<line x1="3042.0" y1="546.7" x2="3068.0" y2="546.7" stroke="#000" stroke-width="5" stroke-linecap="butt" />
<line x1="3042.0" y1="639.3" x2="3352.0" y2="639.3" stroke="#000" stroke-width="5" stroke-linecap="butt" />
<line x1="3138.7" y1="639.3" x2="3138.7" y2="653.0" stroke="#000" stroke-width="5" stroke-linecap="butt" />
<line x1="3264.3" y1="639.3" x2="3264.3" y2="653.0" stroke="#000" stroke-width="5" stroke-linecap="butt" />
<text transform="translate(3033.0,157.1) scale(1.08,1)" font-size="38.5" font-weight="bold" text-anchor="end">1400</text>
<text transform="translate(3033.0,261.5) scale(1.08,1)" font-size="38.5" font-weight="bold" text-anchor="end">1200</text>
<text transform="translate(3033.0,366.5) scale(1.08,1)" font-size="38.5" font-weight="bold" text-anchor="end">1000</text>
<text transform="translate(3033.0,471.1) scale(1.08,1)" font-size="38.5" font-weight="bold" text-anchor="end">800</text>
<text transform="translate(3033.0,560.5) scale(1.08,1)" font-size="38.5" font-weight="bold" text-anchor="end">50</text>
<text transform="translate(3033.0,653.1) scale(1.08,1)" font-size="38.5" font-weight="bold" text-anchor="end">0</text>
<text transform="translate(2913.5,373.5) rotate(-90)" font-size="48" font-weight="bold" text-anchor="middle" textLength="337" lengthAdjust="spacingAndGlyphs">RBCs (10<tspan font-size="30" dy="-17">4</tspan><tspan dy="17"> /µL)</tspan></text>
<text transform="translate(3194.3,153.9) scale(1.08,1)" x="-37.6" y="0" font-size="62" font-weight="normal" letter-spacing="1.4" stroke="#000" stroke-width="0.8">***</text>
<path d="M3136.7,360.0 L3136.7,145.7 L3256.7,145.7 L3256.7,171.0" fill="none" stroke="#000" stroke-width="5" stroke-linejoin="miter"/>
<g fill="#fc6470" fill-opacity="0.85">
<circle cx="3246.0" cy="212.0" r="9.8"/>
<circle cx="3286.0" cy="206.7" r="9.8"/>
<circle cx="3286.0" cy="239.0" r="9.8"/>
<circle cx="3246.0" cy="246.7" r="9.8"/>
<circle cx="3286.0" cy="263.0" r="9.8"/>
<circle cx="3246.0" cy="277.0" r="9.8"/>
<circle cx="3246.0" cy="300.0" r="9.8"/>
<circle cx="3286.0" cy="296.7" r="9.8"/>
</g>
<line x1="3224.0" y1="254.3" x2="3308.0" y2="254.3" stroke="#000" stroke-width="5" stroke-linecap="butt" />
<line x1="3266.7" y1="216.9" x2="3266.7" y2="294.1" stroke="#000" stroke-width="5" stroke-linecap="butt" />
<line x1="3246.7" y1="219.0" x2="3286.0" y2="219.0" stroke="#000" stroke-width="4.2" stroke-linecap="butt" />
<line x1="3246.7" y1="292.0" x2="3286.0" y2="292.0" stroke="#000" stroke-width="4.2" stroke-linecap="butt" />
<g fill="#666666" fill-opacity="0.83">
<circle cx="3107.7" cy="435.0" r="9.8"/>
<circle cx="3172.0" cy="432.0" r="9.8"/>
<circle cx="3107.7" cy="456.7" r="9.8"/>
<circle cx="3129.0" cy="468.0" r="9.8"/>
<circle cx="3149.0" cy="451.7" r="9.8"/>
<circle cx="3149.0" cy="475.0" r="9.8"/>
<circle cx="3172.0" cy="468.0" r="9.8"/>
<circle cx="3107.7" cy="486.7" r="9.8"/>
</g>
<line x1="3099.0" y1="459.0" x2="3180.0" y2="459.0" stroke="#000" stroke-width="5" stroke-linecap="butt" />
<line x1="3138.7" y1="438.6" x2="3138.7" y2="481.1" stroke="#000" stroke-width="5" stroke-linecap="butt" />
<line x1="3119.0" y1="440.7" x2="3159.0" y2="440.7" stroke="#000" stroke-width="4.2" stroke-linecap="butt" />
<line x1="3119.0" y1="479.0" x2="3159.0" y2="479.0" stroke="#000" stroke-width="4.2" stroke-linecap="butt" />
<text x="3104.0" y="700.0" font-size="35" font-weight="bold" font-style="normal" text-anchor="start" textLength="79.0" lengthAdjust="spacingAndGlyphs" fill="#000" >Con.</text>
<text x="3229.0" y="695.0" font-size="35" font-weight="bold" font-style="normal" text-anchor="start" textLength="89.5" lengthAdjust="spacingAndGlyphs" fill="#000" >AAV-</text>
<text x="3226.0" y="740.0" font-size="35" font-weight="bold" text-anchor="start" textLength="99.0" lengthAdjust="spacingAndGlyphs">h<tspan font-style="italic">EPO</tspan></text>
<text x="50.5" y="955.0" font-size="86" font-weight="bold" font-style="normal" text-anchor="start" fill="#000" >F</text>
<line x1="193.0" y1="1005.0" x2="470.0" y2="1005.0" stroke="#909090" stroke-width="4" stroke-dasharray="4.5 10.60"/>
<line x1="193.0" y1="1066.7" x2="470.0" y2="1066.7" stroke="#909090" stroke-width="4" stroke-dasharray="4.5 10.60"/>
<line x1="193.0" y1="1127.3" x2="470.0" y2="1127.3" stroke="#909090" stroke-width="4" stroke-dasharray="4.5 10.60"/>
<line x1="193.0" y1="1189.0" x2="470.0" y2="1189.0" stroke="#909090" stroke-width="4" stroke-dasharray="4.5 10.60"/>
<line x1="193.0" y1="1249.3" x2="470.0" y2="1249.3" stroke="#909090" stroke-width="4" stroke-dasharray="4.5 10.60"/>
<line x1="193.0" y1="1311.0" x2="470.0" y2="1311.0" stroke="#909090" stroke-width="4" stroke-dasharray="4.5 10.60"/>
<line x1="193.0" y1="1371.3" x2="470.0" y2="1371.3" stroke="#909090" stroke-width="4" stroke-dasharray="4.5 10.60"/>
<line x1="193.0" y1="1409.3" x2="470.0" y2="1409.3" stroke="#909090" stroke-width="4" stroke-dasharray="4.5 10.60"/>
<line x1="180.0" y1="1002.5" x2="180.0" y2="1371.3" stroke="#000" stroke-width="5" stroke-linecap="butt" />
<line x1="180.0" y1="1409.3" x2="180.0" y2="1504.2" stroke="#000" stroke-width="5" stroke-linecap="butt" />
<line x1="165.7" y1="1005.0" x2="180.0" y2="1005.0" stroke="#000" stroke-width="5" stroke-linecap="butt" />
<line x1="165.7" y1="1066.7" x2="180.0" y2="1066.7" stroke="#000" stroke-width="5" stroke-linecap="butt" />
<line x1="165.7" y1="1127.3" x2="180.0" y2="1127.3" stroke="#000" stroke-width="5" stroke-linecap="butt" />
<line x1="165.7" y1="1189.0" x2="180.0" y2="1189.0" stroke="#000" stroke-width="5" stroke-linecap="butt" />
<line x1="165.7" y1="1249.3" x2="180.0" y2="1249.3" stroke="#000" stroke-width="5" stroke-linecap="butt" />
<line x1="165.7" y1="1311.0" x2="180.0" y2="1311.0" stroke="#000" stroke-width="5" stroke-linecap="butt" />
<line x1="169.0" y1="1371.3" x2="193.0" y2="1371.3" stroke="#000" stroke-width="5" stroke-linecap="butt" />
<line x1="169.0" y1="1409.3" x2="193.0" y2="1409.3" stroke="#000" stroke-width="5" stroke-linecap="butt" />
<line x1="163.0" y1="1501.7" x2="476.0" y2="1501.7" stroke="#000" stroke-width="5" stroke-linecap="butt" />
<line x1="264.0" y1="1501.7" x2="264.0" y2="1515.0" stroke="#000" stroke-width="5" stroke-linecap="butt" />
<line x1="389.3" y1="1501.7" x2="389.3" y2="1515.0" stroke="#000" stroke-width="5" stroke-linecap="butt" />
<text transform="translate(157.0,1018.8) scale(1.08,1)" font-size="38.5" font-weight="bold" text-anchor="end">24</text>
<text transform="translate(157.0,1080.5) scale(1.08,1)" font-size="38.5" font-weight="bold" text-anchor="end">22</text>
<text transform="translate(157.0,1141.1) scale(1.08,1)" font-size="38.5" font-weight="bold" text-anchor="end">20</text>
<text transform="translate(157.0,1202.8) scale(1.08,1)" font-size="38.5" font-weight="bold" text-anchor="end">18</text>
<text transform="translate(157.0,1263.1) scale(1.08,1)" font-size="38.5" font-weight="bold" text-anchor="end">16</text>
<text transform="translate(157.0,1324.8) scale(1.08,1)" font-size="38.5" font-weight="bold" text-anchor="end">14</text>
<text transform="translate(157.0,1385.1) scale(1.08,1)" font-size="38.5" font-weight="bold" text-anchor="end">12</text>
<text transform="translate(157.0,1423.1) scale(1.08,1)" font-size="38.5" font-weight="bold" text-anchor="end">5</text>
<text transform="translate(157.0,1515.5) scale(1.08,1)" font-size="38.5" font-weight="bold" text-anchor="end">0</text>
<text transform="translate(69.0,1246.0) rotate(-90)" font-size="48" font-weight="bold" text-anchor="middle" textLength="260.0" lengthAdjust="spacingAndGlyphs">HGB (g/dL)</text>
<text transform="translate(310.7,1045.2) scale(1.08,1)" x="-37.6" y="0" font-size="62" font-weight="normal" letter-spacing="1.4" stroke="#000" stroke-width="0.8">***</text>
<path d="M254.0,1250.7 L254.0,1038.0 L373.0,1038.0 L373.0,1062.0" fill="none" stroke="#000" stroke-width="5" stroke-linejoin="miter"/>
<g fill="#fc6470" fill-opacity="0.85">
<circle cx="374.0" cy="1096.0" r="9.8"/>
<circle cx="405.7" cy="1090.0" r="9.8"/>
<circle cx="390.0" cy="1121.7" r="9.8"/>
<circle cx="422.7" cy="1133.0" r="9.8"/>
<circle cx="358.0" cy="1141.7" r="9.8"/>
<circle cx="390.0" cy="1151.7" r="9.8"/>
<circle cx="422.7" cy="1158.0" r="9.8"/>
<circle cx="358.0" cy="1164.0" r="9.8"/>
</g>
<line x1="348.0" y1="1136.0" x2="432.7" y2="1136.0" stroke="#000" stroke-width="5" stroke-linecap="butt" />
<line x1="390.0" y1="1099.9" x2="390.0" y2="1158.1" stroke="#000" stroke-width="5" stroke-linecap="butt" />
<line x1="370.0" y1="1102.0" x2="410.7" y2="1102.0" stroke="#000" stroke-width="4.2" stroke-linecap="butt" />
<line x1="370.0" y1="1156.0" x2="410.7" y2="1156.0" stroke="#000" stroke-width="4.2" stroke-linecap="butt" />
<g fill="#666666" fill-opacity="0.83">
<circle cx="264.0" cy="1311.0" r="9.8"/>
<circle cx="231.7" cy="1323.0" r="9.8"/>
<circle cx="296.7" cy="1328.0" r="9.8"/>
<circle cx="231.7" cy="1348.0" r="9.8"/>
<circle cx="296.7" cy="1353.0" r="9.8"/>
<circle cx="266.7" cy="1336.7" r="9.8"/>
<circle cx="280.0" cy="1340.0" r="9.8"/>
<circle cx="253.0" cy="1340.0" r="9.8"/>
</g>
<line x1="223.0" y1="1334.0" x2="305.7" y2="1334.0" stroke="#000" stroke-width="5" stroke-linecap="butt" />
<line x1="264.0" y1="1319.6" x2="264.0" y2="1350.1" stroke="#000" stroke-width="5" stroke-linecap="butt" />
<line x1="245.0" y1="1321.7" x2="285.0" y2="1321.7" stroke="#000" stroke-width="4.2" stroke-linecap="butt" />
<line x1="245.0" y1="1348.0" x2="285.0" y2="1348.0" stroke="#000" stroke-width="4.2" stroke-linecap="butt" />
<text x="206.7" y="1561.7" font-size="35" font-weight="bold" font-style="normal" text-anchor="start" textLength="79.0" lengthAdjust="spacingAndGlyphs" fill="#000" >Con.</text>
<text x="332.7" y="1553.0" font-size="35" font-weight="bold" font-style="normal" text-anchor="start" textLength="89.5" lengthAdjust="spacingAndGlyphs" fill="#000" >AAV-</text>
<text x="328.0" y="1597.0" font-size="35" font-weight="bold" text-anchor="start" textLength="99.0" lengthAdjust="spacingAndGlyphs">h<tspan font-style="italic">EPO</tspan></text>
<text x="531.0" y="955.0" font-size="86" font-weight="bold" font-style="normal" text-anchor="start" fill="#000" >G</text>
<line x1="671.7" y1="1001.0" x2="947.0" y2="1001.0" stroke="#909090" stroke-width="4" stroke-dasharray="4.5 10.60"/>
<line x1="671.7" y1="1074.0" x2="947.0" y2="1074.0" stroke="#909090" stroke-width="4" stroke-dasharray="4.5 10.60"/>
<line x1="671.7" y1="1146.0" x2="947.0" y2="1146.0" stroke="#909090" stroke-width="4" stroke-dasharray="4.5 10.60"/>
<line x1="671.7" y1="1220.0" x2="947.0" y2="1220.0" stroke="#909090" stroke-width="4" stroke-dasharray="4.5 10.60"/>
<line x1="671.7" y1="1292.7" x2="947.0" y2="1292.7" stroke="#909090" stroke-width="4" stroke-dasharray="4.5 10.60"/>
<line x1="671.7" y1="1366.0" x2="947.0" y2="1366.0" stroke="#909090" stroke-width="4" stroke-dasharray="4.5 10.60"/>
<line x1="671.7" y1="1404.0" x2="947.0" y2="1404.0" stroke="#909090" stroke-width="4" stroke-dasharray="4.5 10.60"/>
<line x1="671.7" y1="1449.3" x2="947.0" y2="1449.3" stroke="#909090" stroke-width="4" stroke-dasharray="4.5 10.60"/>
<line x1="659.3" y1="998.5" x2="659.3" y2="1366.0" stroke="#000" stroke-width="5" stroke-linecap="butt" />
<line x1="659.3" y1="1404.0" x2="659.3" y2="1498.5" stroke="#000" stroke-width="5" stroke-linecap="butt" />
<line x1="644.0" y1="1001.0" x2="659.3" y2="1001.0" stroke="#000" stroke-width="5" stroke-linecap="butt" />
<line x1="644.0" y1="1074.0" x2="659.3" y2="1074.0" stroke="#000" stroke-width="5" stroke-linecap="butt" />
<line x1="644.0" y1="1146.0" x2="659.3" y2="1146.0" stroke="#000" stroke-width="5" stroke-linecap="butt" />
<line x1="644.0" y1="1220.0" x2="659.3" y2="1220.0" stroke="#000" stroke-width="5" stroke-linecap="butt" />
<line x1="644.0" y1="1292.7" x2="659.3" y2="1292.7" stroke="#000" stroke-width="5" stroke-linecap="butt" />
<line x1="644.0" y1="1449.3" x2="659.3" y2="1449.3" stroke="#000" stroke-width="5" stroke-linecap="butt" />
<line x1="645.7" y1="1366.0" x2="673.0" y2="1366.0" stroke="#000" stroke-width="5" stroke-linecap="butt" />
<line x1="645.7" y1="1404.0" x2="673.0" y2="1404.0" stroke="#000" stroke-width="5" stroke-linecap="butt" />
<line x1="643.0" y1="1496.0" x2="956.0" y2="1496.0" stroke="#000" stroke-width="5" stroke-linecap="butt" />
<line x1="742.7" y1="1496.0" x2="742.7" y2="1509.0" stroke="#000" stroke-width="5" stroke-linecap="butt" />
<line x1="870.0" y1="1496.0" x2="870.0" y2="1509.0" stroke="#000" stroke-width="5" stroke-linecap="butt" />
<text transform="translate(636.0,1014.8) scale(1.08,1)" font-size="38.5" font-weight="bold" text-anchor="end">80</text>
<text transform="translate(636.0,1087.8) scale(1.08,1)" font-size="38.5" font-weight="bold" text-anchor="end">70</text>
<text transform="translate(636.0,1159.8) scale(1.08,1)" font-size="38.5" font-weight="bold" text-anchor="end">60</text>
<text transform="translate(636.0,1233.8) scale(1.08,1)" font-size="38.5" font-weight="bold" text-anchor="end">50</text>
<text transform="translate(636.0,1306.5) scale(1.08,1)" font-size="38.5" font-weight="bold" text-anchor="end">40</text>
<text transform="translate(636.0,1379.8) scale(1.08,1)" font-size="38.5" font-weight="bold" text-anchor="end">30</text>
<text transform="translate(636.0,1417.8) scale(1.08,1)" font-size="38.5" font-weight="bold" text-anchor="end">10</text>
<text transform="translate(636.0,1463.1) scale(1.08,1)" font-size="38.5" font-weight="bold" text-anchor="end">5</text>
<text transform="translate(636.0,1509.8) scale(1.08,1)" font-size="38.5" font-weight="bold" text-anchor="end">0</text>
<text transform="translate(555.0,1238.5) rotate(-90)" font-size="48" font-weight="bold" text-anchor="middle" textLength="206.0" lengthAdjust="spacingAndGlyphs">HCT  (%)</text>
<text transform="translate(786.5,1037.2) scale(1.08,1)" x="-37.6" y="0" font-size="62" font-weight="normal" letter-spacing="1.4" stroke="#000" stroke-width="0.8">***</text>
<path d="M730.0,1243.0 L730.0,1031.7 L847.7,1031.7 L847.7,1055.0" fill="none" stroke="#000" stroke-width="5" stroke-linejoin="miter"/>
<g fill="#fc6470" fill-opacity="0.85">
<circle cx="870.0" cy="1090.0" r="9.8"/>
<circle cx="837.7" cy="1112.0" r="9.8"/>
<circle cx="860.0" cy="1125.0" r="9.8"/>
<circle cx="837.7" cy="1134.0" r="9.8"/>
<circle cx="881.0" cy="1125.0" r="9.8"/>
<circle cx="902.7" cy="1143.0" r="9.8"/>
<circle cx="881.0" cy="1151.0" r="9.8"/>
<circle cx="837.7" cy="1159.0" r="9.8"/>
</g>
<line x1="828.0" y1="1129.0" x2="912.0" y2="1129.0" stroke="#000" stroke-width="5" stroke-linecap="butt" />
<line x1="870.0" y1="1113.9" x2="870.0" y2="1152.1" stroke="#000" stroke-width="5" stroke-linecap="butt" />
<line x1="850.0" y1="1116.0" x2="890.0" y2="1116.0" stroke="#000" stroke-width="4.2" stroke-linecap="butt" />
<line x1="850.0" y1="1150.0" x2="890.0" y2="1150.0" stroke="#000" stroke-width="4.2" stroke-linecap="butt" />
<g fill="#666666" fill-opacity="0.83">
<circle cx="711.0" cy="1275.0" r="9.8"/>
<circle cx="761.7" cy="1280.7" r="9.8"/>
<circle cx="726.7" cy="1290.0" r="9.8"/>
<circle cx="746.7" cy="1290.0" r="9.8"/>
<circle cx="711.0" cy="1300.0" r="9.8"/>
<circle cx="736.7" cy="1296.7" r="9.8"/>
<circle cx="776.7" cy="1293.0" r="9.8"/>
<circle cx="761.7" cy="1302.7" r="9.8"/>
</g>
<line x1="701.7" y1="1291.0" x2="784.0" y2="1291.0" stroke="#000" stroke-width="5" stroke-linecap="butt" />
<line x1="743.0" y1="1280.6" x2="743.0" y2="1301.1" stroke="#000" stroke-width="4" stroke-linecap="butt" />
<line x1="723.0" y1="1282.7" x2="763.0" y2="1282.7" stroke="#000" stroke-width="4.2" stroke-linecap="butt" />
<line x1="723.0" y1="1299.0" x2="763.0" y2="1299.0" stroke="#000" stroke-width="4.2" stroke-linecap="butt" />
<text x="706.0" y="1556.7" font-size="35" font-weight="bold" font-style="normal" text-anchor="start" textLength="79.0" lengthAdjust="spacingAndGlyphs" fill="#000" >Con.</text>
<text x="831.7" y="1548.0" font-size="35" font-weight="bold" font-style="normal" text-anchor="start" textLength="89.5" lengthAdjust="spacingAndGlyphs" fill="#000" >AAV-</text>
<text x="826.7" y="1594.0" font-size="35" font-weight="bold" text-anchor="start" textLength="99.0" lengthAdjust="spacingAndGlyphs">h<tspan font-style="italic">EPO</tspan></text>
<text x="1011.0" y="954.0" font-size="86" font-weight="bold" font-style="normal" text-anchor="start" fill="#000" >H</text>
<text x="1113.0" y="970.0" font-size="40" font-weight="bold" font-style="normal" text-anchor="start" textLength="92.0" lengthAdjust="spacingAndGlyphs" fill="#000" >Con.</text>
<text x="1295.0" y="935.0" font-size="40" font-weight="bold" font-style="normal" text-anchor="start" textLength="96.0" lengthAdjust="spacingAndGlyphs" fill="#000" >AAV-</text>
<text x="1287.0" y="985.0" font-size="40" font-weight="bold" text-anchor="start" textLength="113.0" lengthAdjust="spacingAndGlyphs">h<tspan font-style="italic">EPO</tspan></text>
<g clip-path="url(#clipH)">
<rect x="1067.9" y="998.6" width="376.0" height="529.6" fill="#c5cac9" />
<g filter="url(#soft)">
<rect x="1067.9" y="998.6" width="376.0" height="30.0" fill="#bcc2c1" />
<circle cx="1105.4" cy="1063.9" r="27" fill="#cfd5d4" stroke="#b9bfbe" stroke-width="2.5"/>
<circle cx="1105.4" cy="1063.9" r="20" fill="#d7dddc" stroke="#c4cac9" stroke-width="2"/>
<path d="M1093.4,1077.9 l16,-20" stroke="#eef2f1" stroke-width="4" stroke-linecap="round"/>
<circle cx="1103.4" cy="1057.9" r="6" fill="#c6cccb"/>
<circle cx="1165" cy="1063.9" r="27" fill="#cfd5d4" stroke="#b9bfbe" stroke-width="2.5"/>
<circle cx="1165" cy="1063.9" r="20" fill="#d7dddc" stroke="#c4cac9" stroke-width="2"/>
<path d="M1153,1077.9 l16,-20" stroke="#eef2f1" stroke-width="4" stroke-linecap="round"/>
<circle cx="1163" cy="1057.9" r="6" fill="#c6cccb"/>
<circle cx="1225" cy="1063.9" r="27" fill="#cfd5d4" stroke="#b9bfbe" stroke-width="2.5"/>
<circle cx="1225" cy="1063.9" r="20" fill="#d7dddc" stroke="#c4cac9" stroke-width="2"/>
<path d="M1213,1077.9 l16,-20" stroke="#eef2f1" stroke-width="4" stroke-linecap="round"/>
<circle cx="1223" cy="1057.9" r="6" fill="#c6cccb"/>
<circle cx="1283.9" cy="1063.9" r="28" fill="#c4dcd9" stroke="#a9c9c5" stroke-width="2.5"/>
<circle cx="1284.9" cy="1063.9" r="21.5" fill="url(#teal)"/>
<circle cx="1343.6" cy="1063.9" r="28" fill="#c4dcd9" stroke="#a9c9c5" stroke-width="2.5"/>
<circle cx="1344.6" cy="1063.9" r="21.5" fill="url(#teal)"/>
<circle cx="1403.6" cy="1063.9" r="28" fill="#c4dcd9" stroke="#a9c9c5" stroke-width="2.5"/>
<circle cx="1404.6" cy="1063.9" r="21.5" fill="url(#teal)"/>
<circle cx="1105.4" cy="1122.9" r="27" fill="#cfd5d4" stroke="#b9bfbe" stroke-width="2.5"/>
<circle cx="1105.4" cy="1122.9" r="20" fill="#d7dddc" stroke="#c4cac9" stroke-width="2"/>
<path d="M1093.4,1136.9 l16,-20" stroke="#eef2f1" stroke-width="4" stroke-linecap="round"/>
<circle cx="1103.4" cy="1116.9" r="6" fill="#c6cccb"/>
<circle cx="1165" cy="1122.9" r="27" fill="#cfd5d4" stroke="#b9bfbe" stroke-width="2.5"/>
<circle cx="1165" cy="1122.9" r="20" fill="#d7dddc" stroke="#c4cac9" stroke-width="2"/>
<path d="M1153,1136.9 l16,-20" stroke="#eef2f1" stroke-width="4" stroke-linecap="round"/>
<circle cx="1163" cy="1116.9" r="6" fill="#c6cccb"/>
<circle cx="1225" cy="1122.9" r="27" fill="#cfd5d4" stroke="#b9bfbe" stroke-width="2.5"/>
<circle cx="1225" cy="1122.9" r="20" fill="#d7dddc" stroke="#c4cac9" stroke-width="2"/>
<path d="M1213,1136.9 l16,-20" stroke="#eef2f1" stroke-width="4" stroke-linecap="round"/>
<circle cx="1223" cy="1116.9" r="6" fill="#c6cccb"/>
<circle cx="1283.9" cy="1122.9" r="28" fill="#c4dcd9" stroke="#a9c9c5" stroke-width="2.5"/>
<circle cx="1284.9" cy="1122.9" r="21.5" fill="url(#teal2)"/>
<circle cx="1343.6" cy="1122.9" r="28" fill="#c4dcd9" stroke="#a9c9c5" stroke-width="2.5"/>
<circle cx="1344.6" cy="1122.9" r="21.5" fill="url(#teal2)"/>
<circle cx="1403.6" cy="1122.9" r="28" fill="#c4dcd9" stroke="#a9c9c5" stroke-width="2.5"/>
<circle cx="1404.6" cy="1122.9" r="21.5" fill="url(#teal2)"/>
<circle cx="1105.4" cy="1181.8" r="27" fill="#cfd5d4" stroke="#b9bfbe" stroke-width="2.5"/>
<circle cx="1105.4" cy="1181.8" r="20" fill="#d7dddc" stroke="#c4cac9" stroke-width="2"/>
<path d="M1093.4,1195.8 l16,-20" stroke="#eef2f1" stroke-width="4" stroke-linecap="round"/>
<circle cx="1103.4" cy="1175.8" r="6" fill="#c6cccb"/>
<circle cx="1165" cy="1181.8" r="27" fill="#cfd5d4" stroke="#b9bfbe" stroke-width="2.5"/>
<circle cx="1165" cy="1181.8" r="20" fill="#d7dddc" stroke="#c4cac9" stroke-width="2"/>
<path d="M1153,1195.8 l16,-20" stroke="#eef2f1" stroke-width="4" stroke-linecap="round"/>
<circle cx="1163" cy="1175.8" r="6" fill="#c6cccb"/>
<circle cx="1225" cy="1181.8" r="27" fill="#cfd5d4" stroke="#b9bfbe" stroke-width="2.5"/>
<circle cx="1225" cy="1181.8" r="20" fill="#d7dddc" stroke="#c4cac9" stroke-width="2"/>
<path d="M1213,1195.8 l16,-20" stroke="#eef2f1" stroke-width="4" stroke-linecap="round"/>
<circle cx="1223" cy="1175.8" r="6" fill="#c6cccb"/>
<circle cx="1283.9" cy="1181.8" r="28" fill="#c4dcd9" stroke="#a9c9c5" stroke-width="2.5"/>
<circle cx="1284.9" cy="1181.8" r="21.5" fill="url(#teal)"/>
<circle cx="1343.6" cy="1181.8" r="28" fill="#c4dcd9" stroke="#a9c9c5" stroke-width="2.5"/>
<circle cx="1344.6" cy="1181.8" r="21.5" fill="url(#teal)"/>
<circle cx="1403.6" cy="1181.8" r="28" fill="#c4dcd9" stroke="#a9c9c5" stroke-width="2.5"/>
<circle cx="1404.6" cy="1181.8" r="21.5" fill="url(#teal)"/>
<circle cx="1105.4" cy="1240.7" r="27" fill="#cfd5d4" stroke="#b9bfbe" stroke-width="2.5"/>
<circle cx="1105.4" cy="1240.7" r="20" fill="#d7dddc" stroke="#c4cac9" stroke-width="2"/>
<path d="M1093.4,1254.7 l16,-20" stroke="#eef2f1" stroke-width="4" stroke-linecap="round"/>
<circle cx="1103.4" cy="1234.7" r="6" fill="#c6cccb"/>
<circle cx="1165" cy="1240.7" r="27" fill="#cfd5d4" stroke="#b9bfbe" stroke-width="2.5"/>
<circle cx="1165" cy="1240.7" r="20" fill="#d7dddc" stroke="#c4cac9" stroke-width="2"/>
<path d="M1153,1254.7 l16,-20" stroke="#eef2f1" stroke-width="4" stroke-linecap="round"/>
<circle cx="1163" cy="1234.7" r="6" fill="#c6cccb"/>
<circle cx="1225" cy="1240.7" r="27" fill="#cfd5d4" stroke="#b9bfbe" stroke-width="2.5"/>
<circle cx="1225" cy="1240.7" r="20" fill="#d7dddc" stroke="#c4cac9" stroke-width="2"/>
<path d="M1213,1254.7 l16,-20" stroke="#eef2f1" stroke-width="4" stroke-linecap="round"/>
<circle cx="1223" cy="1234.7" r="6" fill="#c6cccb"/>
<circle cx="1283.9" cy="1240.7" r="28" fill="#c4dcd9" stroke="#a9c9c5" stroke-width="2.5"/>
<circle cx="1284.9" cy="1240.7" r="21.5" fill="url(#teal)"/>
<circle cx="1343.6" cy="1240.7" r="28" fill="#c4dcd9" stroke="#a9c9c5" stroke-width="2.5"/>
<circle cx="1344.6" cy="1240.7" r="21.5" fill="url(#teal)"/>
<circle cx="1403.6" cy="1240.7" r="28" fill="#c4dcd9" stroke="#a9c9c5" stroke-width="2.5"/>
<circle cx="1404.6" cy="1240.7" r="21.5" fill="url(#teal)"/>
<circle cx="1105.4" cy="1300.4" r="27" fill="#cfd5d4" stroke="#b9bfbe" stroke-width="2.5"/>
<circle cx="1105.4" cy="1300.4" r="20" fill="#d7dddc" stroke="#c4cac9" stroke-width="2"/>
<path d="M1093.4,1314.4 l16,-20" stroke="#eef2f1" stroke-width="4" stroke-linecap="round"/>
<circle cx="1103.4" cy="1294.4" r="6" fill="#c6cccb"/>
<circle cx="1165" cy="1300.4" r="27" fill="#cfd5d4" stroke="#b9bfbe" stroke-width="2.5"/>
<circle cx="1165" cy="1300.4" r="20" fill="#d7dddc" stroke="#c4cac9" stroke-width="2"/>
<path d="M1153,1314.4 l16,-20" stroke="#eef2f1" stroke-width="4" stroke-linecap="round"/>
<circle cx="1163" cy="1294.4" r="6" fill="#c6cccb"/>
<circle cx="1225" cy="1300.4" r="27" fill="#cfd5d4" stroke="#b9bfbe" stroke-width="2.5"/>
<circle cx="1225" cy="1300.4" r="20" fill="#d7dddc" stroke="#c4cac9" stroke-width="2"/>
<path d="M1213,1314.4 l16,-20" stroke="#eef2f1" stroke-width="4" stroke-linecap="round"/>
<circle cx="1223" cy="1294.4" r="6" fill="#c6cccb"/>
<circle cx="1283.9" cy="1300.4" r="28" fill="#c4dcd9" stroke="#a9c9c5" stroke-width="2.5"/>
<circle cx="1284.9" cy="1300.4" r="21.5" fill="url(#teal)"/>
<circle cx="1343.6" cy="1300.4" r="28" fill="#c4dcd9" stroke="#a9c9c5" stroke-width="2.5"/>
<circle cx="1344.6" cy="1300.4" r="21.5" fill="url(#teal)"/>
<circle cx="1403.6" cy="1300.4" r="28" fill="#c4dcd9" stroke="#a9c9c5" stroke-width="2.5"/>
<circle cx="1404.6" cy="1300.4" r="21.5" fill="url(#teal)"/>
<circle cx="1105.4" cy="1359.6" r="27" fill="#cfd5d4" stroke="#b9bfbe" stroke-width="2.5"/>
<circle cx="1105.4" cy="1359.6" r="20" fill="#d7dddc" stroke="#c4cac9" stroke-width="2"/>
<path d="M1093.4,1373.6 l16,-20" stroke="#eef2f1" stroke-width="4" stroke-linecap="round"/>
<circle cx="1103.4" cy="1353.6" r="6" fill="#c6cccb"/>
<circle cx="1165" cy="1359.6" r="27" fill="#cfd5d4" stroke="#b9bfbe" stroke-width="2.5"/>
<circle cx="1165" cy="1359.6" r="20" fill="#d7dddc" stroke="#c4cac9" stroke-width="2"/>
<path d="M1153,1373.6 l16,-20" stroke="#eef2f1" stroke-width="4" stroke-linecap="round"/>
<circle cx="1163" cy="1353.6" r="6" fill="#c6cccb"/>
<circle cx="1225" cy="1359.6" r="27" fill="#cfd5d4" stroke="#b9bfbe" stroke-width="2.5"/>
<circle cx="1225" cy="1359.6" r="20" fill="#d7dddc" stroke="#c4cac9" stroke-width="2"/>
<path d="M1213,1373.6 l16,-20" stroke="#eef2f1" stroke-width="4" stroke-linecap="round"/>
<circle cx="1223" cy="1353.6" r="6" fill="#c6cccb"/>
<circle cx="1283.9" cy="1359.6" r="28" fill="#c4dcd9" stroke="#a9c9c5" stroke-width="2.5"/>
<circle cx="1284.9" cy="1359.6" r="21.5" fill="url(#teal)"/>
<circle cx="1343.6" cy="1359.6" r="28" fill="#c4dcd9" stroke="#a9c9c5" stroke-width="2.5"/>
<circle cx="1344.6" cy="1359.6" r="21.5" fill="url(#teal)"/>
<circle cx="1403.6" cy="1359.6" r="28" fill="#c4dcd9" stroke="#a9c9c5" stroke-width="2.5"/>
<circle cx="1404.6" cy="1359.6" r="21.5" fill="url(#teal)"/>
<circle cx="1105.4" cy="1419.3" r="27" fill="#cfd5d4" stroke="#b9bfbe" stroke-width="2.5"/>
<circle cx="1105.4" cy="1419.3" r="20" fill="#d7dddc" stroke="#c4cac9" stroke-width="2"/>
<path d="M1093.4,1433.3 l16,-20" stroke="#eef2f1" stroke-width="4" stroke-linecap="round"/>
<circle cx="1103.4" cy="1413.3" r="6" fill="#c6cccb"/>
<circle cx="1165" cy="1419.3" r="27" fill="#cfd5d4" stroke="#b9bfbe" stroke-width="2.5"/>
<circle cx="1165" cy="1419.3" r="20" fill="#d7dddc" stroke="#c4cac9" stroke-width="2"/>
<path d="M1153,1433.3 l16,-20" stroke="#eef2f1" stroke-width="4" stroke-linecap="round"/>
<circle cx="1163" cy="1413.3" r="6" fill="#c6cccb"/>
<circle cx="1225" cy="1419.3" r="27" fill="#cfd5d4" stroke="#b9bfbe" stroke-width="2.5"/>
<circle cx="1225" cy="1419.3" r="20" fill="#d7dddc" stroke="#c4cac9" stroke-width="2"/>
<path d="M1213,1433.3 l16,-20" stroke="#eef2f1" stroke-width="4" stroke-linecap="round"/>
<circle cx="1223" cy="1413.3" r="6" fill="#c6cccb"/>
<circle cx="1283.9" cy="1419.3" r="28" fill="#c4dcd9" stroke="#a9c9c5" stroke-width="2.5"/>
<circle cx="1284.9" cy="1419.3" r="21.5" fill="url(#teal)"/>
<circle cx="1343.6" cy="1419.3" r="28" fill="#c4dcd9" stroke="#a9c9c5" stroke-width="2.5"/>
<circle cx="1344.6" cy="1419.3" r="21.5" fill="url(#teal)"/>
<circle cx="1403.6" cy="1419.3" r="28" fill="#c4dcd9" stroke="#a9c9c5" stroke-width="2.5"/>
<circle cx="1404.6" cy="1419.3" r="21.5" fill="url(#teal)"/>
<circle cx="1105.4" cy="1478.9" r="27" fill="#cfd5d4" stroke="#b9bfbe" stroke-width="2.5"/>
<circle cx="1105.4" cy="1478.9" r="20" fill="#d7dddc" stroke="#c4cac9" stroke-width="2"/>
<path d="M1093.4,1492.9 l16,-20" stroke="#eef2f1" stroke-width="4" stroke-linecap="round"/>
<circle cx="1103.4" cy="1472.9" r="6" fill="#c6cccb"/>
<circle cx="1165" cy="1478.9" r="27" fill="#cfd5d4" stroke="#b9bfbe" stroke-width="2.5"/>
<circle cx="1165" cy="1478.9" r="20" fill="#d7dddc" stroke="#c4cac9" stroke-width="2"/>
<path d="M1153,1492.9 l16,-20" stroke="#eef2f1" stroke-width="4" stroke-linecap="round"/>
<circle cx="1163" cy="1472.9" r="6" fill="#c6cccb"/>
<circle cx="1225" cy="1478.9" r="27" fill="#cfd5d4" stroke="#b9bfbe" stroke-width="2.5"/>
<circle cx="1225" cy="1478.9" r="20" fill="#d7dddc" stroke="#c4cac9" stroke-width="2"/>
<path d="M1213,1492.9 l16,-20" stroke="#eef2f1" stroke-width="4" stroke-linecap="round"/>
<circle cx="1223" cy="1472.9" r="6" fill="#c6cccb"/>
<circle cx="1283.9" cy="1478.9" r="28" fill="#c4dcd9" stroke="#a9c9c5" stroke-width="2.5"/>
<circle cx="1284.9" cy="1478.9" r="21.5" fill="url(#teal)"/>
<circle cx="1343.6" cy="1478.9" r="28" fill="#c4dcd9" stroke="#a9c9c5" stroke-width="2.5"/>
<circle cx="1344.6" cy="1478.9" r="21.5" fill="url(#teal)"/>
<circle cx="1403.6" cy="1478.9" r="28" fill="#c4dcd9" stroke="#a9c9c5" stroke-width="2.5"/>
<circle cx="1404.6" cy="1478.9" r="21.5" fill="url(#teal)"/>
</g>
<rect x="1067.9" y="998.6" width="376.0" height="529.6" fill="#fff" filter="url(#hnoise)" opacity="0.35"/>
</g>
<rect x="1086.8" y="1007.0" width="141.8" height="10.5" fill="#000" />
<rect x="1272.5" y="1007.0" width="141.8" height="10.5" fill="#000" />
<text x="1507.0" y="961.7" font-size="86" font-weight="bold" font-style="normal" text-anchor="start" fill="#000" >I</text>
<line x1="1658.0" y1="1011.0" x2="1935.0" y2="1011.0" stroke="#909090" stroke-width="4" stroke-dasharray="4.5 10.60"/>
<line x1="1658.0" y1="1110.0" x2="1935.0" y2="1110.0" stroke="#909090" stroke-width="4" stroke-dasharray="4.5 10.60"/>
<line x1="1658.0" y1="1208.3" x2="1935.0" y2="1208.3" stroke="#909090" stroke-width="4" stroke-dasharray="4.5 10.60"/>
<line x1="1658.0" y1="1307.7" x2="1935.0" y2="1307.7" stroke="#909090" stroke-width="4" stroke-dasharray="4.5 10.60"/>
<line x1="1658.0" y1="1406.7" x2="1935.0" y2="1406.7" stroke="#909090" stroke-width="4" stroke-dasharray="4.5 10.60"/>
<line x1="1645.7" y1="1008.5" x2="1645.7" y2="1508.2" stroke="#000" stroke-width="5" stroke-linecap="butt" />
<line x1="1630.0" y1="1011.0" x2="1645.7" y2="1011.0" stroke="#000" stroke-width="5" stroke-linecap="butt" />
<line x1="1630.0" y1="1110.0" x2="1645.7" y2="1110.0" stroke="#000" stroke-width="5" stroke-linecap="butt" />
<line x1="1630.0" y1="1208.3" x2="1645.7" y2="1208.3" stroke="#000" stroke-width="5" stroke-linecap="butt" />
<line x1="1630.0" y1="1307.7" x2="1645.7" y2="1307.7" stroke="#000" stroke-width="5" stroke-linecap="butt" />
<line x1="1630.0" y1="1406.7" x2="1645.7" y2="1406.7" stroke="#000" stroke-width="5" stroke-linecap="butt" />
<line x1="1630.0" y1="1505.7" x2="1945.7" y2="1505.7" stroke="#000" stroke-width="5" stroke-linecap="butt" />
<line x1="1730.0" y1="1505.7" x2="1730.0" y2="1520.0" stroke="#000" stroke-width="5" stroke-linecap="butt" />
<line x1="1858.3" y1="1505.7" x2="1858.3" y2="1520.0" stroke="#000" stroke-width="5" stroke-linecap="butt" />
<text transform="translate(1622.0,1024.8) scale(1.08,1)" font-size="38.5" font-weight="bold" text-anchor="end">500</text>
<text transform="translate(1622.0,1123.8) scale(1.08,1)" font-size="38.5" font-weight="bold" text-anchor="end">400</text>
<text transform="translate(1622.0,1222.1) scale(1.08,1)" font-size="38.5" font-weight="bold" text-anchor="end">300</text>
<text transform="translate(1622.0,1321.5) scale(1.08,1)" font-size="38.5" font-weight="bold" text-anchor="end">200</text>
<text transform="translate(1622.0,1420.5) scale(1.08,1)" font-size="38.5" font-weight="bold" text-anchor="end">100</text>
<text transform="translate(1622.0,1519.5) scale(1.08,1)" font-size="38.5" font-weight="bold" text-anchor="end">0</text>
<text transform="translate(1530.0,1262.5) rotate(-90)" font-size="48" font-weight="bold" text-anchor="middle" textLength="341.0" lengthAdjust="spacingAndGlyphs">hEPO  (ng/mL)</text>
<text transform="translate(1787.5,1055.2) scale(1.08,1)" x="-37.6" y="0" font-size="62" font-weight="normal" letter-spacing="1.4" stroke="#000" stroke-width="0.8">***</text>
<path d="M1730.0,1356.7 L1730.0,1045.0 L1850.0,1045.0 L1850.0,1059.0" fill="none" stroke="#000" stroke-width="5" stroke-linejoin="miter"/>
<g fill="#fc6470" fill-opacity="0.85">
<circle cx="1858.0" cy="1087.7" r="9.8"/>
<circle cx="1858.0" cy="1164.0" r="9.8"/>
<circle cx="1877.7" cy="1235.0" r="9.8"/>
<circle cx="1837.7" cy="1254.0" r="9.8"/>
<circle cx="1877.7" cy="1256.7" r="9.8"/>
<circle cx="1837.7" cy="1276.7" r="9.8"/>
<circle cx="1858.0" cy="1296.7" r="9.8"/>
<circle cx="1858.3" cy="1383.3" r="9.8"/>
</g>
<line x1="1815.0" y1="1255.7" x2="1900.0" y2="1255.7" stroke="#000" stroke-width="5" stroke-linecap="butt" />
<line x1="1858.0" y1="1179.6" x2="1858.0" y2="1294.1" stroke="#000" stroke-width="5" stroke-linecap="butt" />
<line x1="1837.0" y1="1181.7" x2="1879.0" y2="1181.7" stroke="#000" stroke-width="4.2" stroke-linecap="butt" />
<line x1="1837.0" y1="1292.0" x2="1879.0" y2="1292.0" stroke="#000" stroke-width="4.2" stroke-linecap="butt" />
<text x="1696.7" y="1476.7" font-size="39.5" font-weight="bold" font-style="normal" text-anchor="start" textLength="73.5" lengthAdjust="spacingAndGlyphs" fill="#000" >N.D.</text>
<text x="1693.0" y="1575.0" font-size="35" font-weight="bold" font-style="normal" text-anchor="start" textLength="79.0" lengthAdjust="spacingAndGlyphs" fill="#000" >Con.</text>
<text x="1817.0" y="1561.7" font-size="35" font-weight="bold" font-style="normal" text-anchor="start" textLength="89.5" lengthAdjust="spacingAndGlyphs" fill="#000" >AAV-</text>
<text x="1813.0" y="1606.7" font-size="35" font-weight="bold" text-anchor="start" textLength="99.0" lengthAdjust="spacingAndGlyphs">h<tspan font-style="italic">EPO</tspan></text>
<text x="2255.5" y="851.7" font-size="86" font-weight="bold" font-style="normal" text-anchor="start" fill="#000" >J</text>
<line x1="2385.0" y1="911.7" x2="3568.0" y2="911.7" stroke="#909090" stroke-width="4" stroke-dasharray="4.5 10.60"/>
<line x1="2385.0" y1="980.0" x2="3568.0" y2="980.0" stroke="#909090" stroke-width="4" stroke-dasharray="4.5 10.60"/>
<line x1="2385.0" y1="1048.3" x2="3568.0" y2="1048.3" stroke="#909090" stroke-width="4" stroke-dasharray="4.5 10.60"/>
<line x1="2385.0" y1="1118.3" x2="3568.0" y2="1118.3" stroke="#909090" stroke-width="4" stroke-dasharray="4.5 10.60"/>
<line x1="2385.0" y1="1186.7" x2="3568.0" y2="1186.7" stroke="#909090" stroke-width="4" stroke-dasharray="4.5 10.60"/>
<line x1="2385.0" y1="1255.0" x2="3568.0" y2="1255.0" stroke="#909090" stroke-width="4" stroke-dasharray="4.5 10.60"/>
<line x1="2385.0" y1="1325.0" x2="3568.0" y2="1325.0" stroke="#909090" stroke-width="4" stroke-dasharray="4.5 10.60"/>
<line x1="2385.0" y1="1393.3" x2="3568.0" y2="1393.3" stroke="#909090" stroke-width="4" stroke-dasharray="4.5 10.60"/>
<line x1="2385.0" y1="1461.7" x2="3568.0" y2="1461.7" stroke="#909090" stroke-width="4" stroke-dasharray="4.5 10.60"/>
<line x1="2373.5" y1="909.2" x2="2373.5" y2="1531.8" stroke="#000" stroke-width="5" stroke-linecap="butt" />
<line x1="2358.0" y1="1529.3" x2="3571.0" y2="1529.3" stroke="#000" stroke-width="5" stroke-linecap="butt" />
<line x1="2357.6" y1="911.7" x2="2373.5" y2="911.7" stroke="#000" stroke-width="5" stroke-linecap="butt" />
<line x1="2363.3" y1="959.4" x2="2373.5" y2="959.4" stroke="#000" stroke-width="4.2" stroke-linecap="butt" />
<line x1="2363.3" y1="947.4" x2="2373.5" y2="947.4" stroke="#000" stroke-width="4.2" stroke-linecap="butt" />
<line x1="2363.3" y1="938.9" x2="2373.5" y2="938.9" stroke="#000" stroke-width="4.2" stroke-linecap="butt" />
<line x1="2363.3" y1="932.3" x2="2373.5" y2="932.3" stroke="#000" stroke-width="4.2" stroke-linecap="butt" />
<line x1="2363.3" y1="926.9" x2="2373.5" y2="926.9" stroke="#000" stroke-width="4.2" stroke-linecap="butt" />
<line x1="2363.3" y1="922.3" x2="2373.5" y2="922.3" stroke="#000" stroke-width="4.2" stroke-linecap="butt" />
<line x1="2363.3" y1="918.3" x2="2373.5" y2="918.3" stroke="#000" stroke-width="4.2" stroke-linecap="butt" />
<line x1="2363.3" y1="914.8" x2="2373.5" y2="914.8" stroke="#000" stroke-width="4.2" stroke-linecap="butt" />
<line x1="2357.6" y1="980.0" x2="2373.5" y2="980.0" stroke="#000" stroke-width="5" stroke-linecap="butt" />
<line x1="2363.3" y1="1027.7" x2="2373.5" y2="1027.7" stroke="#000" stroke-width="4.2" stroke-linecap="butt" />
<line x1="2363.3" y1="1015.7" x2="2373.5" y2="1015.7" stroke="#000" stroke-width="4.2" stroke-linecap="butt" />
<line x1="2363.3" y1="1007.2" x2="2373.5" y2="1007.2" stroke="#000" stroke-width="4.2" stroke-linecap="butt" />
<line x1="2363.3" y1="1000.6" x2="2373.5" y2="1000.6" stroke="#000" stroke-width="4.2" stroke-linecap="butt" />
<line x1="2363.3" y1="995.2" x2="2373.5" y2="995.2" stroke="#000" stroke-width="4.2" stroke-linecap="butt" />
<line x1="2363.3" y1="990.6" x2="2373.5" y2="990.6" stroke="#000" stroke-width="4.2" stroke-linecap="butt" />
<line x1="2363.3" y1="986.6" x2="2373.5" y2="986.6" stroke="#000" stroke-width="4.2" stroke-linecap="butt" />
<line x1="2363.3" y1="983.1" x2="2373.5" y2="983.1" stroke="#000" stroke-width="4.2" stroke-linecap="butt" />
<line x1="2357.6" y1="1048.3" x2="2373.5" y2="1048.3" stroke="#000" stroke-width="5" stroke-linecap="butt" />
<line x1="2363.3" y1="1097.2" x2="2373.5" y2="1097.2" stroke="#000" stroke-width="4.2" stroke-linecap="butt" />
<line x1="2363.3" y1="1084.9" x2="2373.5" y2="1084.9" stroke="#000" stroke-width="4.2" stroke-linecap="butt" />
<line x1="2363.3" y1="1076.2" x2="2373.5" y2="1076.2" stroke="#000" stroke-width="4.2" stroke-linecap="butt" />
<line x1="2363.3" y1="1069.4" x2="2373.5" y2="1069.4" stroke="#000" stroke-width="4.2" stroke-linecap="butt" />
<line x1="2363.3" y1="1063.8" x2="2373.5" y2="1063.8" stroke="#000" stroke-width="4.2" stroke-linecap="butt" />
<line x1="2363.3" y1="1059.1" x2="2373.5" y2="1059.1" stroke="#000" stroke-width="4.2" stroke-linecap="butt" />
<line x1="2363.3" y1="1055.1" x2="2373.5" y2="1055.1" stroke="#000" stroke-width="4.2" stroke-linecap="butt" />
<line x1="2363.3" y1="1051.5" x2="2373.5" y2="1051.5" stroke="#000" stroke-width="4.2" stroke-linecap="butt" />
<line x1="2357.6" y1="1118.3" x2="2373.5" y2="1118.3" stroke="#000" stroke-width="5" stroke-linecap="butt" />
<line x1="2363.3" y1="1166.1" x2="2373.5" y2="1166.1" stroke="#000" stroke-width="4.2" stroke-linecap="butt" />
<line x1="2363.3" y1="1154.1" x2="2373.5" y2="1154.1" stroke="#000" stroke-width="4.2" stroke-linecap="butt" />
<line x1="2363.3" y1="1145.5" x2="2373.5" y2="1145.5" stroke="#000" stroke-width="4.2" stroke-linecap="butt" />
<line x1="2363.3" y1="1138.9" x2="2373.5" y2="1138.9" stroke="#000" stroke-width="4.2" stroke-linecap="butt" />
<line x1="2363.3" y1="1133.5" x2="2373.5" y2="1133.5" stroke="#000" stroke-width="4.2" stroke-linecap="butt" />
<line x1="2363.3" y1="1128.9" x2="2373.5" y2="1128.9" stroke="#000" stroke-width="4.2" stroke-linecap="butt" />
<line x1="2363.3" y1="1124.9" x2="2373.5" y2="1124.9" stroke="#000" stroke-width="4.2" stroke-linecap="butt" />
<line x1="2363.3" y1="1121.4" x2="2373.5" y2="1121.4" stroke="#000" stroke-width="4.2" stroke-linecap="butt" />
<line x1="2357.6" y1="1186.7" x2="2373.5" y2="1186.7" stroke="#000" stroke-width="5" stroke-linecap="butt" />
<line x1="2363.3" y1="1234.4" x2="2373.5" y2="1234.4" stroke="#000" stroke-width="4.2" stroke-linecap="butt" />
<line x1="2363.3" y1="1222.4" x2="2373.5" y2="1222.4" stroke="#000" stroke-width="4.2" stroke-linecap="butt" />
<line x1="2363.3" y1="1213.9" x2="2373.5" y2="1213.9" stroke="#000" stroke-width="4.2" stroke-linecap="butt" />
<line x1="2363.3" y1="1207.3" x2="2373.5" y2="1207.3" stroke="#000" stroke-width="4.2" stroke-linecap="butt" />
<line x1="2363.3" y1="1201.9" x2="2373.5" y2="1201.9" stroke="#000" stroke-width="4.2" stroke-linecap="butt" />
<line x1="2363.3" y1="1197.3" x2="2373.5" y2="1197.3" stroke="#000" stroke-width="4.2" stroke-linecap="butt" />
<line x1="2363.3" y1="1193.3" x2="2373.5" y2="1193.3" stroke="#000" stroke-width="4.2" stroke-linecap="butt" />
<line x1="2363.3" y1="1189.8" x2="2373.5" y2="1189.8" stroke="#000" stroke-width="4.2" stroke-linecap="butt" />
<line x1="2357.6" y1="1255.0" x2="2373.5" y2="1255.0" stroke="#000" stroke-width="5" stroke-linecap="butt" />
<line x1="2363.3" y1="1303.9" x2="2373.5" y2="1303.9" stroke="#000" stroke-width="4.2" stroke-linecap="butt" />
<line x1="2363.3" y1="1291.6" x2="2373.5" y2="1291.6" stroke="#000" stroke-width="4.2" stroke-linecap="butt" />
<line x1="2363.3" y1="1282.9" x2="2373.5" y2="1282.9" stroke="#000" stroke-width="4.2" stroke-linecap="butt" />
<line x1="2363.3" y1="1276.1" x2="2373.5" y2="1276.1" stroke="#000" stroke-width="4.2" stroke-linecap="butt" />
<line x1="2363.3" y1="1270.5" x2="2373.5" y2="1270.5" stroke="#000" stroke-width="4.2" stroke-linecap="butt" />
<line x1="2363.3" y1="1265.8" x2="2373.5" y2="1265.8" stroke="#000" stroke-width="4.2" stroke-linecap="butt" />
<line x1="2363.3" y1="1261.8" x2="2373.5" y2="1261.8" stroke="#000" stroke-width="4.2" stroke-linecap="butt" />
<line x1="2363.3" y1="1258.2" x2="2373.5" y2="1258.2" stroke="#000" stroke-width="4.2" stroke-linecap="butt" />
<line x1="2357.6" y1="1325.0" x2="2373.5" y2="1325.0" stroke="#000" stroke-width="5" stroke-linecap="butt" />
<line x1="2363.3" y1="1372.7" x2="2373.5" y2="1372.7" stroke="#000" stroke-width="4.2" stroke-linecap="butt" />
<line x1="2363.3" y1="1360.7" x2="2373.5" y2="1360.7" stroke="#000" stroke-width="4.2" stroke-linecap="butt" />
<line x1="2363.3" y1="1352.2" x2="2373.5" y2="1352.2" stroke="#000" stroke-width="4.2" stroke-linecap="butt" />
<line x1="2363.3" y1="1345.6" x2="2373.5" y2="1345.6" stroke="#000" stroke-width="4.2" stroke-linecap="butt" />
<line x1="2363.3" y1="1340.2" x2="2373.5" y2="1340.2" stroke="#000" stroke-width="4.2" stroke-linecap="butt" />
<line x1="2363.3" y1="1335.6" x2="2373.5" y2="1335.6" stroke="#000" stroke-width="4.2" stroke-linecap="butt" />
<line x1="2363.3" y1="1331.6" x2="2373.5" y2="1331.6" stroke="#000" stroke-width="4.2" stroke-linecap="butt" />
<line x1="2363.3" y1="1328.1" x2="2373.5" y2="1328.1" stroke="#000" stroke-width="4.2" stroke-linecap="butt" />
<line x1="2357.6" y1="1393.3" x2="2373.5" y2="1393.3" stroke="#000" stroke-width="5" stroke-linecap="butt" />
<line x1="2363.3" y1="1441.1" x2="2373.5" y2="1441.1" stroke="#000" stroke-width="4.2" stroke-linecap="butt" />
<line x1="2363.3" y1="1429.1" x2="2373.5" y2="1429.1" stroke="#000" stroke-width="4.2" stroke-linecap="butt" />
<line x1="2363.3" y1="1420.5" x2="2373.5" y2="1420.5" stroke="#000" stroke-width="4.2" stroke-linecap="butt" />
<line x1="2363.3" y1="1413.9" x2="2373.5" y2="1413.9" stroke="#000" stroke-width="4.2" stroke-linecap="butt" />
<line x1="2363.3" y1="1408.5" x2="2373.5" y2="1408.5" stroke="#000" stroke-width="4.2" stroke-linecap="butt" />
<line x1="2363.3" y1="1403.9" x2="2373.5" y2="1403.9" stroke="#000" stroke-width="4.2" stroke-linecap="butt" />
<line x1="2363.3" y1="1399.9" x2="2373.5" y2="1399.9" stroke="#000" stroke-width="4.2" stroke-linecap="butt" />
<line x1="2363.3" y1="1396.4" x2="2373.5" y2="1396.4" stroke="#000" stroke-width="4.2" stroke-linecap="butt" />
<line x1="2357.6" y1="1461.7" x2="2373.5" y2="1461.7" stroke="#000" stroke-width="5" stroke-linecap="butt" />
<line x1="2363.3" y1="1509.0" x2="2373.5" y2="1509.0" stroke="#000" stroke-width="4.2" stroke-linecap="butt" />
<line x1="2363.3" y1="1497.0" x2="2373.5" y2="1497.0" stroke="#000" stroke-width="4.2" stroke-linecap="butt" />
<line x1="2363.3" y1="1488.6" x2="2373.5" y2="1488.6" stroke="#000" stroke-width="4.2" stroke-linecap="butt" />
<line x1="2363.3" y1="1482.0" x2="2373.5" y2="1482.0" stroke="#000" stroke-width="4.2" stroke-linecap="butt" />
<line x1="2363.3" y1="1476.7" x2="2373.5" y2="1476.7" stroke="#000" stroke-width="4.2" stroke-linecap="butt" />
<line x1="2363.3" y1="1472.2" x2="2373.5" y2="1472.2" stroke="#000" stroke-width="4.2" stroke-linecap="butt" />
<line x1="2363.3" y1="1468.3" x2="2373.5" y2="1468.3" stroke="#000" stroke-width="4.2" stroke-linecap="butt" />
<line x1="2363.3" y1="1464.8" x2="2373.5" y2="1464.8" stroke="#000" stroke-width="4.2" stroke-linecap="butt" />
<line x1="2357.6" y1="1529.3" x2="2373.5" y2="1529.3" stroke="#000" stroke-width="5" stroke-linecap="butt" />
<text x="2288.0" y="925.3" font-size="40" font-weight="bold" font-style="normal" text-anchor="start" fill="#000" >10</text>
<text x="2336.5" y="911.3" font-size="25" font-weight="bold" font-style="normal" text-anchor="start" fill="#000" >6</text>
<text x="2288.0" y="993.6" font-size="40" font-weight="bold" font-style="normal" text-anchor="start" fill="#000" >10</text>
<text x="2336.5" y="979.6" font-size="25" font-weight="bold" font-style="normal" text-anchor="start" fill="#000" >5</text>
<text x="2288.0" y="1061.9" font-size="40" font-weight="bold" font-style="normal" text-anchor="start" fill="#000" >10</text>
<text x="2336.5" y="1047.9" font-size="25" font-weight="bold" font-style="normal" text-anchor="start" fill="#000" >4</text>
<text x="2288.0" y="1131.9" font-size="40" font-weight="bold" font-style="normal" text-anchor="start" fill="#000" >10</text>
<text x="2336.5" y="1117.9" font-size="25" font-weight="bold" font-style="normal" text-anchor="start" fill="#000" >3</text>
<text x="2288.0" y="1200.3" font-size="40" font-weight="bold" font-style="normal" text-anchor="start" fill="#000" >10</text>
<text x="2336.5" y="1186.3" font-size="25" font-weight="bold" font-style="normal" text-anchor="start" fill="#000" >2</text>
<text x="2288.0" y="1268.6" font-size="40" font-weight="bold" font-style="normal" text-anchor="start" fill="#000" >10</text>
<text x="2336.5" y="1254.6" font-size="25" font-weight="bold" font-style="normal" text-anchor="start" fill="#000" >1</text>
<text x="2288.0" y="1338.6" font-size="40" font-weight="bold" font-style="normal" text-anchor="start" fill="#000" >10</text>
<text x="2336.5" y="1324.6" font-size="25" font-weight="bold" font-style="normal" text-anchor="start" fill="#000" >0</text>
<text x="2279.0" y="1406.9" font-size="40" font-weight="bold" font-style="normal" text-anchor="start" fill="#000" >10</text>
<text x="2327.0" y="1392.9" font-size="25" font-weight="bold" font-style="normal" text-anchor="start" fill="#000" >-1</text>
<text x="2279.0" y="1475.3" font-size="40" font-weight="bold" font-style="normal" text-anchor="start" fill="#000" >10</text>
<text x="2327.0" y="1461.3" font-size="25" font-weight="bold" font-style="normal" text-anchor="start" fill="#000" >-2</text>
<text x="2279.0" y="1542.9" font-size="40" font-weight="bold" font-style="normal" text-anchor="start" fill="#000" >10</text>
<text x="2327.0" y="1528.9" font-size="25" font-weight="bold" font-style="normal" text-anchor="start" fill="#000" >-3</text>
<text transform="translate(2207.0,1202.5) rotate(-90)" font-size="56" font-weight="bold" text-anchor="middle" textLength="677.0" lengthAdjust="spacingAndGlyphs">Relative gene expression</text>
<line x1="2448.3" y1="1529.3" x2="2448.3" y2="1545.0" stroke="#000" stroke-width="5" stroke-linecap="butt" />
<line x1="2564.3" y1="1529.3" x2="2564.3" y2="1545.0" stroke="#000" stroke-width="5" stroke-linecap="butt" />
<line x1="2680.0" y1="1529.3" x2="2680.0" y2="1545.0" stroke="#000" stroke-width="5" stroke-linecap="butt" />
<line x1="2795.7" y1="1529.3" x2="2795.7" y2="1545.0" stroke="#000" stroke-width="5" stroke-linecap="butt" />
<line x1="2912.0" y1="1529.3" x2="2912.0" y2="1545.0" stroke="#000" stroke-width="5" stroke-linecap="butt" />
<line x1="3027.7" y1="1529.3" x2="3027.7" y2="1545.0" stroke="#000" stroke-width="5" stroke-linecap="butt" />
<line x1="3143.7" y1="1529.3" x2="3143.7" y2="1545.0" stroke="#000" stroke-width="5" stroke-linecap="butt" />
<line x1="3259.3" y1="1529.3" x2="3259.3" y2="1545.0" stroke="#000" stroke-width="5" stroke-linecap="butt" />
<line x1="3374.3" y1="1529.3" x2="3374.3" y2="1545.0" stroke="#000" stroke-width="5" stroke-linecap="butt" />
<line x1="3489.3" y1="1529.3" x2="3489.3" y2="1545.0" stroke="#000" stroke-width="5" stroke-linecap="butt" />
<text transform="translate(2508.3,951.0) scale(1.08,1)" x="-35.2" y="0" font-size="58" font-weight="normal" letter-spacing="1.4" stroke="#000" stroke-width="0.8">***</text>
<path d="M2445.0,1256.7 L2445.0,941.7 L2564.3,941.7 L2564.3,960.0" fill="none" stroke="#000" stroke-width="5" stroke-linejoin="miter"/>
<g fill="#fc6470" fill-opacity="0.85">
<circle cx="2550.0" cy="983.0" r="9.8"/>
<circle cx="2536.7" cy="998.0" r="9.8"/>
<circle cx="2580.0" cy="990.0" r="9.8"/>
<circle cx="2595.0" cy="996.7" r="9.8"/>
<circle cx="2565.0" cy="1000.0" r="9.8"/>
<circle cx="2580.0" cy="1010.0" r="9.8"/>
<circle cx="2565.0" cy="1018.0" r="9.8"/>
<circle cx="2565.0" cy="1044.0" r="9.8"/>
</g>
<line x1="2526.7" y1="997.7" x2="2603.0" y2="997.7" stroke="#000" stroke-width="5" stroke-linecap="butt" />
<line x1="2565.0" y1="989.9" x2="2565.0" y2="1018.8" stroke="#000" stroke-width="5" stroke-linecap="butt" />
<line x1="2545.7" y1="992.0" x2="2583.0" y2="992.0" stroke="#000" stroke-width="4.2" stroke-linecap="butt" />
<line x1="2545.7" y1="1016.7" x2="2583.0" y2="1016.7" stroke="#000" stroke-width="4.2" stroke-linecap="butt" />
<g fill="#666666" fill-opacity="0.83">
<circle cx="2449.3" cy="1281.7" r="9.8"/>
<circle cx="2420.7" cy="1304.0" r="9.8"/>
<circle cx="2478.3" cy="1318.3" r="9.8"/>
<circle cx="2420.7" cy="1348.3" r="9.8"/>
<circle cx="2478.3" cy="1363.3" r="9.8"/>
<circle cx="2449.3" cy="1392.7" r="9.8"/>
</g>
<line x1="2411.7" y1="1355.3" x2="2488.3" y2="1355.3" stroke="#000" stroke-width="5" stroke-linecap="butt" />
<line x1="2449.3" y1="1305.2" x2="2449.3" y2="1436.4" stroke="#000" stroke-width="5" stroke-linecap="butt" />
<line x1="2430.0" y1="1307.3" x2="2469.0" y2="1307.3" stroke="#000" stroke-width="4.2" stroke-linecap="butt" />
<line x1="2430.0" y1="1434.3" x2="2469.0" y2="1434.3" stroke="#000" stroke-width="4.2" stroke-linecap="butt" />
<text transform="translate(2744.8,1106.0) scale(1.08,1)" x="-35.2" y="0" font-size="58" font-weight="normal" letter-spacing="1.4" stroke="#000" stroke-width="0.8">***</text>
<path d="M2685.0,1262.0 L2685.0,1100.0 L2804.0,1100.0 L2804.0,1125.0" fill="none" stroke="#000" stroke-width="5" stroke-linejoin="miter"/>
<g fill="#fc6470" fill-opacity="0.85">
<circle cx="2768.0" cy="1164.0" r="9.8"/>
<circle cx="2825.0" cy="1180.7" r="9.8"/>
<circle cx="2768.0" cy="1202.7" r="9.8"/>
<circle cx="2796.7" cy="1196.7" r="9.8"/>
<circle cx="2825.0" cy="1205.0" r="9.8"/>
<circle cx="2796.7" cy="1216.7" r="9.8"/>
<circle cx="2825.0" cy="1229.0" r="9.8"/>
<circle cx="2768.0" cy="1245.7" r="9.8"/>
</g>
<line x1="2758.0" y1="1203.0" x2="2835.0" y2="1203.0" stroke="#000" stroke-width="5" stroke-linecap="butt" />
<line x1="2796.7" y1="1182.9" x2="2796.7" y2="1227.1" stroke="#000" stroke-width="5" stroke-linecap="butt" />
<line x1="2776.7" y1="1185.0" x2="2815.7" y2="1185.0" stroke="#000" stroke-width="4.2" stroke-linecap="butt" />
<line x1="2776.7" y1="1225.0" x2="2815.7" y2="1225.0" stroke="#000" stroke-width="4.2" stroke-linecap="butt" />
<g fill="#666666" fill-opacity="0.83">
<circle cx="2695.0" cy="1300.0" r="9.8"/>
<circle cx="2680.0" cy="1315.0" r="9.8"/>
<circle cx="2666.7" cy="1321.7" r="9.8"/>
<circle cx="2710.0" cy="1323.3" r="9.8"/>
<circle cx="2651.7" cy="1343.3" r="9.8"/>
<circle cx="2666.7" cy="1333.0" r="9.8"/>
<circle cx="2695.0" cy="1333.0" r="9.8"/>
<circle cx="2710.0" cy="1343.0" r="9.8"/>
</g>
<line x1="2641.7" y1="1325.0" x2="2720.0" y2="1325.0" stroke="#000" stroke-width="5" stroke-linecap="butt" />
<line x1="2680.7" y1="1308.9" x2="2680.7" y2="1348.8" stroke="#000" stroke-width="5" stroke-linecap="butt" />
<line x1="2661.7" y1="1311.0" x2="2700.0" y2="1311.0" stroke="#000" stroke-width="4.2" stroke-linecap="butt" />
<line x1="2661.7" y1="1346.7" x2="2700.0" y2="1346.7" stroke="#000" stroke-width="4.2" stroke-linecap="butt" />
<text transform="translate(2963.5,1206.0) scale(1.08,1)" x="-35.2" y="0" font-size="58" font-weight="normal" letter-spacing="1.4" stroke="#000" stroke-width="0.8">***</text>
<path d="M2902.7,1271.7 L2902.7,1206.7 L3021.7,1206.7 L3021.7,1222.7" fill="none" stroke="#000" stroke-width="5" stroke-linejoin="miter"/>
<g fill="#666666" fill-opacity="0.83">
<circle cx="2883.7" cy="1316.7" r="9.8"/>
<circle cx="2906.0" cy="1321.7" r="9.8"/>
<circle cx="2928.3" cy="1306.7" r="9.8"/>
<circle cx="2941.0" cy="1318.3" r="9.8"/>
<circle cx="2906.0" cy="1331.7" r="9.8"/>
<circle cx="2928.3" cy="1333.3" r="9.8"/>
<circle cx="2916.0" cy="1326.7" r="9.8"/>
<circle cx="2912.0" cy="1382.7" r="9.8"/>
</g>
<line x1="2874.3" y1="1324.3" x2="2951.0" y2="1324.3" stroke="#000" stroke-width="5" stroke-linecap="butt" />
<line x1="2912.7" y1="1315.2" x2="2912.7" y2="1334.8" stroke="#000" stroke-width="5" stroke-linecap="butt" />
<line x1="2893.3" y1="1317.3" x2="2931.7" y2="1317.3" stroke="#000" stroke-width="4.2" stroke-linecap="butt" />
<line x1="2893.3" y1="1332.7" x2="2931.7" y2="1332.7" stroke="#000" stroke-width="4.2" stroke-linecap="butt" />
<g fill="#fc6470" fill-opacity="0.85">
<circle cx="2999.3" cy="1251.0" r="9.8"/>
<circle cx="3037.0" cy="1248.3" r="9.8"/>
<circle cx="3017.7" cy="1265.0" r="9.8"/>
<circle cx="3056.0" cy="1270.0" r="9.8"/>
<circle cx="2999.3" cy="1278.3" r="9.8"/>
<circle cx="3027.7" cy="1275.0" r="9.8"/>
<circle cx="3037.0" cy="1290.0" r="9.8"/>
<circle cx="3018.3" cy="1309.3" r="9.8"/>
</g>
<line x1="2989.3" y1="1270.7" x2="3066.0" y2="1270.7" stroke="#000" stroke-width="5" stroke-linecap="butt" />
<line x1="3027.7" y1="1251.9" x2="3027.7" y2="1289.4" stroke="#000" stroke-width="5" stroke-linecap="butt" />
<line x1="3008.7" y1="1254.0" x2="3046.7" y2="1254.0" stroke="#000" stroke-width="4.2" stroke-linecap="butt" />
<line x1="3008.7" y1="1287.3" x2="3046.7" y2="1287.3" stroke="#000" stroke-width="4.2" stroke-linecap="butt" />
<text transform="translate(3186.8,1171.0) scale(1.08,1)" x="-23.3" y="0" font-size="58" font-weight="normal" letter-spacing="1.4" stroke="#000" stroke-width="0.8">**</text>
<path d="M3126.7,1271.7 L3126.7,1167.7 L3246.0,1167.7 L3246.0,1192.7" fill="none" stroke="#000" stroke-width="5" stroke-linejoin="miter"/>
<g fill="#666666" fill-opacity="0.83">
<circle cx="3114.3" cy="1308.3" r="9.8"/>
<circle cx="3129.3" cy="1310.0" r="9.8"/>
<circle cx="3143.7" cy="1303.3" r="9.8"/>
<circle cx="3156.0" cy="1315.0" r="9.8"/>
<circle cx="3143.7" cy="1321.7" r="9.8"/>
<circle cx="3143.7" cy="1376.7" r="9.8"/>
<circle cx="3150.3" cy="1421.7" r="9.8"/>
<circle cx="3136.0" cy="1435.0" r="9.8"/>
</g>
<line x1="3104.3" y1="1325.0" x2="3181.7" y2="1325.0" stroke="#000" stroke-width="5" stroke-linecap="butt" />
<line x1="3143.7" y1="1304.6" x2="3143.7" y2="1376.4" stroke="#000" stroke-width="5" stroke-linecap="butt" />
<line x1="3124.3" y1="1306.7" x2="3163.3" y2="1306.7" stroke="#000" stroke-width="4.2" stroke-linecap="butt" />
<line x1="3124.3" y1="1374.3" x2="3163.3" y2="1374.3" stroke="#000" stroke-width="4.2" stroke-linecap="butt" />
<g fill="#fc6470" fill-opacity="0.85">
<circle cx="3230.3" cy="1240.7" r="9.8"/>
<circle cx="3259.3" cy="1232.7" r="9.8"/>
<circle cx="3259.3" cy="1260.0" r="9.8"/>
<circle cx="3230.3" cy="1281.0" r="9.8"/>
<circle cx="3287.7" cy="1281.0" r="9.8"/>
<circle cx="3259.3" cy="1296.7" r="9.8"/>
<circle cx="3287.7" cy="1303.3" r="9.8"/>
<circle cx="3230.3" cy="1310.0" r="9.8"/>
</g>
<line x1="3221.0" y1="1280.7" x2="3297.7" y2="1280.7" stroke="#000" stroke-width="5" stroke-linecap="butt" />
<line x1="3259.3" y1="1241.2" x2="3259.3" y2="1304.8" stroke="#000" stroke-width="5" stroke-linecap="butt" />
<line x1="3240.0" y1="1243.3" x2="3278.3" y2="1243.3" stroke="#000" stroke-width="4.2" stroke-linecap="butt" />
<line x1="3240.0" y1="1302.7" x2="3278.3" y2="1302.7" stroke="#000" stroke-width="4.2" stroke-linecap="butt" />
<text transform="translate(3423.5,1124.2) scale(1.08,1)" x="-35.2" y="0" font-size="58" font-weight="normal" letter-spacing="1.4" stroke="#000" stroke-width="0.8">***</text>
<path d="M3368.3,1243.3 L3368.3,1138.3 L3488.3,1138.3 L3488.3,1164.0" fill="none" stroke="#000" stroke-width="5" stroke-linejoin="miter"/>
<g fill="#666666" fill-opacity="0.83">
<circle cx="3346.0" cy="1296.0" r="9.8"/>
<circle cx="3403.3" cy="1296.0" r="9.8"/>
<circle cx="3375.0" cy="1301.7" r="9.8"/>
<circle cx="3375.0" cy="1343.3" r="9.8"/>
<circle cx="3375.0" cy="1371.7" r="9.8"/>
<circle cx="3375.0" cy="1425.0" r="9.8"/>
<circle cx="3403.3" cy="1426.0" r="9.8"/>
<circle cx="3346.0" cy="1442.7" r="9.8"/>
</g>
<line x1="3336.0" y1="1355.0" x2="3413.7" y2="1355.0" stroke="#000" stroke-width="5" stroke-linecap="butt" />
<line x1="3375.0" y1="1295.6" x2="3375.0" y2="1428.1" stroke="#000" stroke-width="5" stroke-linecap="butt" />
<line x1="3355.3" y1="1297.7" x2="3393.7" y2="1297.7" stroke="#000" stroke-width="4.2" stroke-linecap="butt" />
<line x1="3355.3" y1="1426.0" x2="3393.7" y2="1426.0" stroke="#000" stroke-width="4.2" stroke-linecap="butt" />
<g fill="#fc6470" fill-opacity="0.85">
<circle cx="3499.0" cy="1208.0" r="9.8"/>
<circle cx="3469.0" cy="1225.0" r="9.8"/>
<circle cx="3461.0" cy="1231.7" r="9.8"/>
<circle cx="3519.0" cy="1235.0" r="9.8"/>
<circle cx="3509.0" cy="1225.0" r="9.8"/>
<circle cx="3499.0" cy="1241.7" r="9.8"/>
<circle cx="3479.0" cy="1228.0" r="9.8"/>
<circle cx="3489.0" cy="1232.0" r="9.8"/>
</g>
<line x1="3452.0" y1="1225.7" x2="3528.7" y2="1225.7" stroke="#000" stroke-width="5" stroke-linecap="butt" />
<line x1="3490.0" y1="1217.9" x2="3490.0" y2="1235.1" stroke="#000" stroke-width="5" stroke-linecap="butt" />
<line x1="3471.0" y1="1220.0" x2="3509.0" y2="1220.0" stroke="#000" stroke-width="4.2" stroke-linecap="butt" />
<line x1="3471.0" y1="1233.0" x2="3509.0" y2="1233.0" stroke="#000" stroke-width="4.2" stroke-linecap="butt" />
<rect x="2420.7" y="1448.3" width="175.3" height="72.2" fill="#fff" stroke="#9a9a9a" stroke-width="4.4"/>
<rect x="2421.3999999999996" y="1449.0" width="173.9" height="70.8" fill="none" stroke="#000" stroke-width="3"/>
<text x="2458.0" y="1498.0" font-size="35" font-weight="bold" text-anchor="start" textLength="100.0" lengthAdjust="spacingAndGlyphs">h<tspan font-style="italic">EPO</tspan></text>
<rect x="2650" y="1450.7" width="176.0" height="69.8" fill="#fff" stroke="#9a9a9a" stroke-width="4.4"/>
<rect x="2650.7" y="1451.4" width="174.6" height="68.4" fill="none" stroke="#000" stroke-width="3"/>
<text x="2690.0" y="1498.0" font-size="35" font-weight="bold" font-style="italic" text-anchor="start" textLength="97.0" lengthAdjust="spacingAndGlyphs" fill="#000" >Gata1</text>
<rect x="2881" y="1451" width="175.7" height="69.5" fill="#fff" stroke="#9a9a9a" stroke-width="4.4"/>
<rect x="2881.7" y="1451.7" width="174.3" height="68.1" fill="none" stroke="#000" stroke-width="3"/>
<text x="2920.0" y="1498.0" font-size="35" font-weight="bold" font-style="italic" text-anchor="start" textLength="97.7" lengthAdjust="spacingAndGlyphs" fill="#000" >Gata1</text>
<rect x="3112.7" y="1451" width="175.6" height="69.5" fill="#fff" stroke="#9a9a9a" stroke-width="4.4"/>
<rect x="3113.3999999999996" y="1451.7" width="174.2" height="68.1" fill="none" stroke="#000" stroke-width="3"/>
<text x="3157.7" y="1498.0" font-size="35" font-weight="bold" font-style="italic" text-anchor="start" textLength="88.3" lengthAdjust="spacingAndGlyphs" fill="#000" >Gypa</text>
<rect x="3345" y="1449" width="175.0" height="71.5" fill="#fff" stroke="#9a9a9a" stroke-width="4.4"/>
<rect x="3345.7" y="1449.7" width="173.6" height="70.1" fill="none" stroke="#000" stroke-width="3"/>
<text x="3390.0" y="1498.0" font-size="35" font-weight="bold" font-style="italic" text-anchor="start" textLength="85.3" lengthAdjust="spacingAndGlyphs" fill="#000" >Cd71</text>
<text x="2410.7" y="1604.0" font-size="35" font-weight="bold" font-style="normal" text-anchor="start" textLength="79.0" lengthAdjust="spacingAndGlyphs" fill="#000" >Con.</text>
<text x="2521.7" y="1588.0" font-size="35" font-weight="bold" font-style="normal" text-anchor="start" textLength="89.5" lengthAdjust="spacingAndGlyphs" fill="#000" >AAV-</text>
<text x="2517.0" y="1634.0" font-size="35" font-weight="bold" text-anchor="start" textLength="99.0" lengthAdjust="spacingAndGlyphs">h<tspan font-style="italic">EPO</tspan></text>
<text x="2643.0" y="1604.0" font-size="35" font-weight="bold" font-style="normal" text-anchor="start" textLength="79.0" lengthAdjust="spacingAndGlyphs" fill="#000" >Con.</text>
<text x="2753.0" y="1590.7" font-size="35" font-weight="bold" font-style="normal" text-anchor="start" textLength="89.5" lengthAdjust="spacingAndGlyphs" fill="#000" >AAV-</text>
<text x="2749.0" y="1635.7" font-size="35" font-weight="bold" text-anchor="start" textLength="99.0" lengthAdjust="spacingAndGlyphs">h<tspan font-style="italic">EPO</tspan></text>
<text x="2881.0" y="1607.3" font-size="35" font-weight="bold" font-style="normal" text-anchor="start" textLength="79.0" lengthAdjust="spacingAndGlyphs" fill="#000" >Con.</text>
<text x="2987.7" y="1590.7" font-size="35" font-weight="bold" font-style="normal" text-anchor="start" textLength="89.5" lengthAdjust="spacingAndGlyphs" fill="#000" >AAV-</text>
<text x="2984.3" y="1636.0" font-size="35" font-weight="bold" text-anchor="start" textLength="99.0" lengthAdjust="spacingAndGlyphs">h<tspan font-style="italic">EPO</tspan></text>
<text x="3097.7" y="1596.7" font-size="35" font-weight="bold" font-style="normal" text-anchor="start" textLength="79.0" lengthAdjust="spacingAndGlyphs" fill="#000" >Con.</text>
<text x="3216.0" y="1596.0" font-size="35" font-weight="bold" font-style="normal" text-anchor="start" textLength="89.5" lengthAdjust="spacingAndGlyphs" fill="#000" >AAV-</text>
<text x="3211.0" y="1640.7" font-size="35" font-weight="bold" text-anchor="start" textLength="99.0" lengthAdjust="spacingAndGlyphs">h<tspan font-style="italic">EPO</tspan></text>
<text x="3340.3" y="1605.0" font-size="35" font-weight="bold" font-style="normal" text-anchor="start" textLength="79.0" lengthAdjust="spacingAndGlyphs" fill="#000" >Con.</text>
<text x="3453.3" y="1591.7" font-size="35" font-weight="bold" font-style="normal" text-anchor="start" textLength="89.5" lengthAdjust="spacingAndGlyphs" fill="#000" >AAV-</text>
<text x="3449.3" y="1636.7" font-size="35" font-weight="bold" text-anchor="start" textLength="99.0" lengthAdjust="spacingAndGlyphs">h<tspan font-style="italic">EPO</tspan></text>
<rect x="2400.7" y="1661.5" width="441.0" height="8.5" fill="#000" />
<rect x="2886.7" y="1657.0" width="653.3" height="8.5" fill="#000" />
<text x="2546.7" y="1720.0" font-size="55" font-weight="bold" font-style="normal" text-anchor="start" textLength="128.3" lengthAdjust="spacingAndGlyphs" fill="#000" >Liver</text>
<text x="3117.7" y="1717.0" font-size="55" font-weight="bold" font-style="normal" text-anchor="start" textLength="178.3" lengthAdjust="spacingAndGlyphs" fill="#000" >Spleen</text>
<text x="98.0" y="1713.0" font-size="86" font-weight="bold" font-style="normal" text-anchor="start" fill="#000" >K</text>
<rect x="130.5" y="1715.5" width="2397.5" height="667" rx="103" ry="103" fill="none" stroke="#000" stroke-width="7"/>
<text x="340.7" y="1800.8" font-size="44" font-weight="bold" font-style="normal" text-anchor="start" textLength="216.6" lengthAdjust="spacingAndGlyphs" fill="#000" >Con.; liver</text>
<text x="860.5" y="1802" font-size="44" font-weight="bold" textLength="341" lengthAdjust="spacingAndGlyphs">AAV-h<tspan font-style="italic">EPO</tspan>; liver</text>
<text x="1525.7" y="1804.6" font-size="44" font-weight="bold" font-style="normal" text-anchor="start" textLength="267.8" lengthAdjust="spacingAndGlyphs" fill="#000" >Con.; spleen</text>
<text x="2018.7" y="1804.6" font-size="44" font-weight="bold" textLength="346" lengthAdjust="spacingAndGlyphs">AAV-h<tspan font-style="italic">EPO</tspan>; liver</text>
<rect x="157.5" y="1815.0" width="1137.0" height="494.5" fill="#2b2b2b" />
<rect x="1340.5" y="1814.5" width="1146.5" height="497.0" fill="#2b2b2b" />
<clipPath id="k1"><rect x="161" y="1818.5" width="566" height="487.5"/></clipPath>
<clipPath id="k2"><rect x="730.5" y="1818.5" width="560.5" height="487.5"/></clipPath>
<clipPath id="k3"><rect x="1344" y="1818" width="563.5" height="490"/></clipPath>
<clipPath id="k4"><rect x="1911" y="1818" width="572.5" height="490"/></clipPath>
<g clip-path="url(#k1)">
<rect x="161.0" y="1818.5" width="566.0" height="487.5" fill="#d85f88" filter="url(#liv)"/>
<ellipse cx="407" cy="2065.3" rx="78" ry="72" fill="#e9a9b4" filter="url(#soft3)"/>
<ellipse cx="407" cy="2065.3" rx="74" ry="68.5" fill="#fae9cb"/>
<circle cx="442.5" cy="2160" r="14" fill="#d78fa6"/><circle cx="442.5" cy="2160" r="9.5" fill="#fdf0da"/>
<path d="M270,2115 l8,-22 l6,24 l-10,22z" fill="#fbe9d2"/><path d="M290,1955 l14,-6 l-2,8z" fill="#fbe9d2"/><ellipse cx="585" cy="2282" rx="12" ry="9" fill="#fbe9d2"/><ellipse cx="543" cy="2224" rx="6" ry="5" fill="#fbe9d2"/>
</g>
<g clip-path="url(#k2)">
<rect x="730.5" y="1818.5" width="560.5" height="487.5" fill="#d65a85" filter="url(#liv2)"/>
<path d="M985.0,2005.0 C991.3,2002.0 1000.8,1996.5 1010.0,1996.0 C1019.2,1995.5 1032.0,1998.0 1040.0,2002.0 C1048.0,2006.0 1054.0,2012.8 1058.0,2020.0 C1062.0,2027.2 1064.0,2038.3 1064.0,2045.0 C1064.0,2051.7 1056.7,2056.5 1058.0,2060.0 C1059.3,2063.5 1073.0,2064.3 1072.0,2066.0 C1071.0,2067.7 1058.2,2067.0 1052.0,2070.0 C1045.8,2073.0 1042.8,2080.7 1035.0,2084.0 C1027.2,2087.3 1015.0,2090.3 1005.0,2090.0 C995.0,2089.7 982.8,2087.0 975.0,2082.0 C967.2,2077.0 960.5,2068.7 958.0,2060.0 C955.5,2051.3 957.7,2037.7 960.0,2030.0 C962.3,2022.3 967.8,2018.2 972.0,2014.0 C976.2,2009.8 978.7,2008.0 985.0,2005.0 Z" fill="#e9a9b4" stroke="#e9a9b4" stroke-width="6" filter="url(#soft3)"/>
<path d="M985.0,2005.0 C991.3,2002.0 1000.8,1996.5 1010.0,1996.0 C1019.2,1995.5 1032.0,1998.0 1040.0,2002.0 C1048.0,2006.0 1054.0,2012.8 1058.0,2020.0 C1062.0,2027.2 1064.0,2038.3 1064.0,2045.0 C1064.0,2051.7 1056.7,2056.5 1058.0,2060.0 C1059.3,2063.5 1073.0,2064.3 1072.0,2066.0 C1071.0,2067.7 1058.2,2067.0 1052.0,2070.0 C1045.8,2073.0 1042.8,2080.7 1035.0,2084.0 C1027.2,2087.3 1015.0,2090.3 1005.0,2090.0 C995.0,2089.7 982.8,2087.0 975.0,2082.0 C967.2,2077.0 960.5,2068.7 958.0,2060.0 C955.5,2051.3 957.7,2037.7 960.0,2030.0 C962.3,2022.3 967.8,2018.2 972.0,2014.0 C976.2,2009.8 978.7,2008.0 985.0,2005.0 Z" fill="#fae9cb"/>
<g stroke="#f6dcd0" stroke-width="3" fill="none" opacity="0.8" stroke-linecap="round"><path d="M955,2070 q-30,25 -45,70 q-10,40 -40,70"/><path d="M950,2040 q-40,10 -80,-10"/><path d="M1000,2095 q-5,60 -20,100 q0,40 10,70"/><path d="M1060,2085 q30,40 40,90"/><path d="M740,2080 q20,60 30,120 q10,60 0,100"/><path d="M1150,1990 q20,-30 30,-70"/><path d="M900,1960 q20,30 10,60"/></g>
</g>
<g clip-path="url(#k3)">
<rect x="1344.0" y="1818.0" width="563.5" height="490.0" fill="#b04f7c" filter="url(#spl)"/>
<g filter="url(#soft12)" opacity="0.42"><ellipse cx="1480" cy="1940" rx="170" ry="80" fill="#d8304c" transform="rotate(-30 1480 1940)"/><ellipse cx="1690" cy="1930" rx="140" ry="60" fill="#d8304c" transform="rotate(-30 1690 1930)"/><ellipse cx="1500" cy="2080" rx="150" ry="40" fill="#d8304c" transform="rotate(-30 1500 2080)"/><ellipse cx="1760" cy="2250" rx="180" ry="90" fill="#c0709c" opacity="0.5"/></g>
<g stroke="#f8e6d0" fill="none" stroke-linecap="round">
<path d="M1385,2010 L1455,1950" stroke-width="9"/>
<path d="M1455,1950 L1480,1940" stroke-width="5"/>
<path d="M1480,1870 L1520,1845" stroke-width="4"/>
<path d="M1610,1955 L1665,1925" stroke-width="5"/>
<path d="M1700,1845 L1760,1830" stroke-width="3"/>
<path d="M1780,1840 L1800,1838" stroke-width="3"/>
<path d="M1840,1950 L1870,1920" stroke-width="7"/>
<path d="M1870,1920 L1905,1895" stroke-width="6"/>
<path d="M1670,2080 L1715,2050" stroke-width="5"/>
<path d="M1590,2095 L1620,2080" stroke-width="4"/>
<path d="M1740,2060 L1770,2040" stroke-width="4"/>
<path d="M1770,2000 L1810,1970" stroke-width="3"/>
<path d="M1430,2135 L1445,2128" stroke-width="3"/>
<path d="M1380,2180 L1395,2172" stroke-width="2.5"/>
<path d="M1535,2165 L1548,2150" stroke-width="3"/>
<path d="M1690,2135 L1720,2128" stroke-width="3"/>
</g></g>
<g clip-path="url(#k4)">
<rect x="1911.0" y="1818.0" width="572.5" height="490.0" fill="#b5557f" filter="url(#spl2)"/>
<g filter="url(#soft12)" opacity="0.55" fill="none" stroke="#e8456e" stroke-linecap="round"><path d="M2338,1942 L2229,2062 L2120,2172 L2065,2290" stroke-width="60"/><path d="M2152,1942 L2136,2030 L2202,2090" stroke-width="45"/><path d="M2327,2030 L2311,2172 L2300,2290" stroke-width="50"/><circle cx="1956" cy="2205" r="30" fill="#f06a92" stroke="none"/></g>
<g filter="url(#soft12)" opacity="0.35"><ellipse cx="2010" cy="1960" rx="110" ry="120" fill="#8a4a8c"/><ellipse cx="2420" cy="2000" rx="70" ry="160" fill="#8a4a8c"/></g>
<g fill="#f7e6d4"><path d="M2212,2172 l8,-10 l4,30 l10,12 l-14,-2 z"/><path d="M2290,2240 l8,-6 l-6,40 l-10,30 l-4,-20z"/><circle cx="1944" cy="1865" r="5"/></g>
</g>
<rect x="570.3" y="2258.0" width="113.0" height="8.5" fill="#000" />
<text x="592.0" y="2247.7" font-size="25.5" font-weight="bold" font-style="normal" text-anchor="start" textLength="70.5" lengthAdjust="spacingAndGlyphs" fill="#000" >10µm</text>
<rect x="1144.0" y="2258.0" width="115.0" height="8.5" fill="#000" />
<text x="1166.7" y="2247.7" font-size="25.5" font-weight="bold" font-style="normal" text-anchor="start" textLength="70.5" lengthAdjust="spacingAndGlyphs" fill="#000" >10µm</text>
<rect x="1756.4" y="2264.0" width="121.3" height="9.0" fill="#000" />
<text x="1785.3" y="2256.6" font-size="26.5" font-weight="bold" font-style="normal" text-anchor="start" textLength="54.7" lengthAdjust="spacingAndGlyphs" fill="#000" >5µm</text>
<rect x="2328.6" y="2264.0" width="120.8" height="9.0" fill="#000" />
<text x="2357.5" y="2256.6" font-size="26.5" font-weight="bold" font-style="normal" text-anchor="start" textLength="54.7" lengthAdjust="spacingAndGlyphs" fill="#000" >5µm</text>
<rect x="726.5" y="1815.0" width="4.0" height="494.5" fill="#1e1e1e" />
<rect x="1907.0" y="1814.5" width="4.0" height="497.0" fill="#1e1e1e" />
</svg>
</body></html>
